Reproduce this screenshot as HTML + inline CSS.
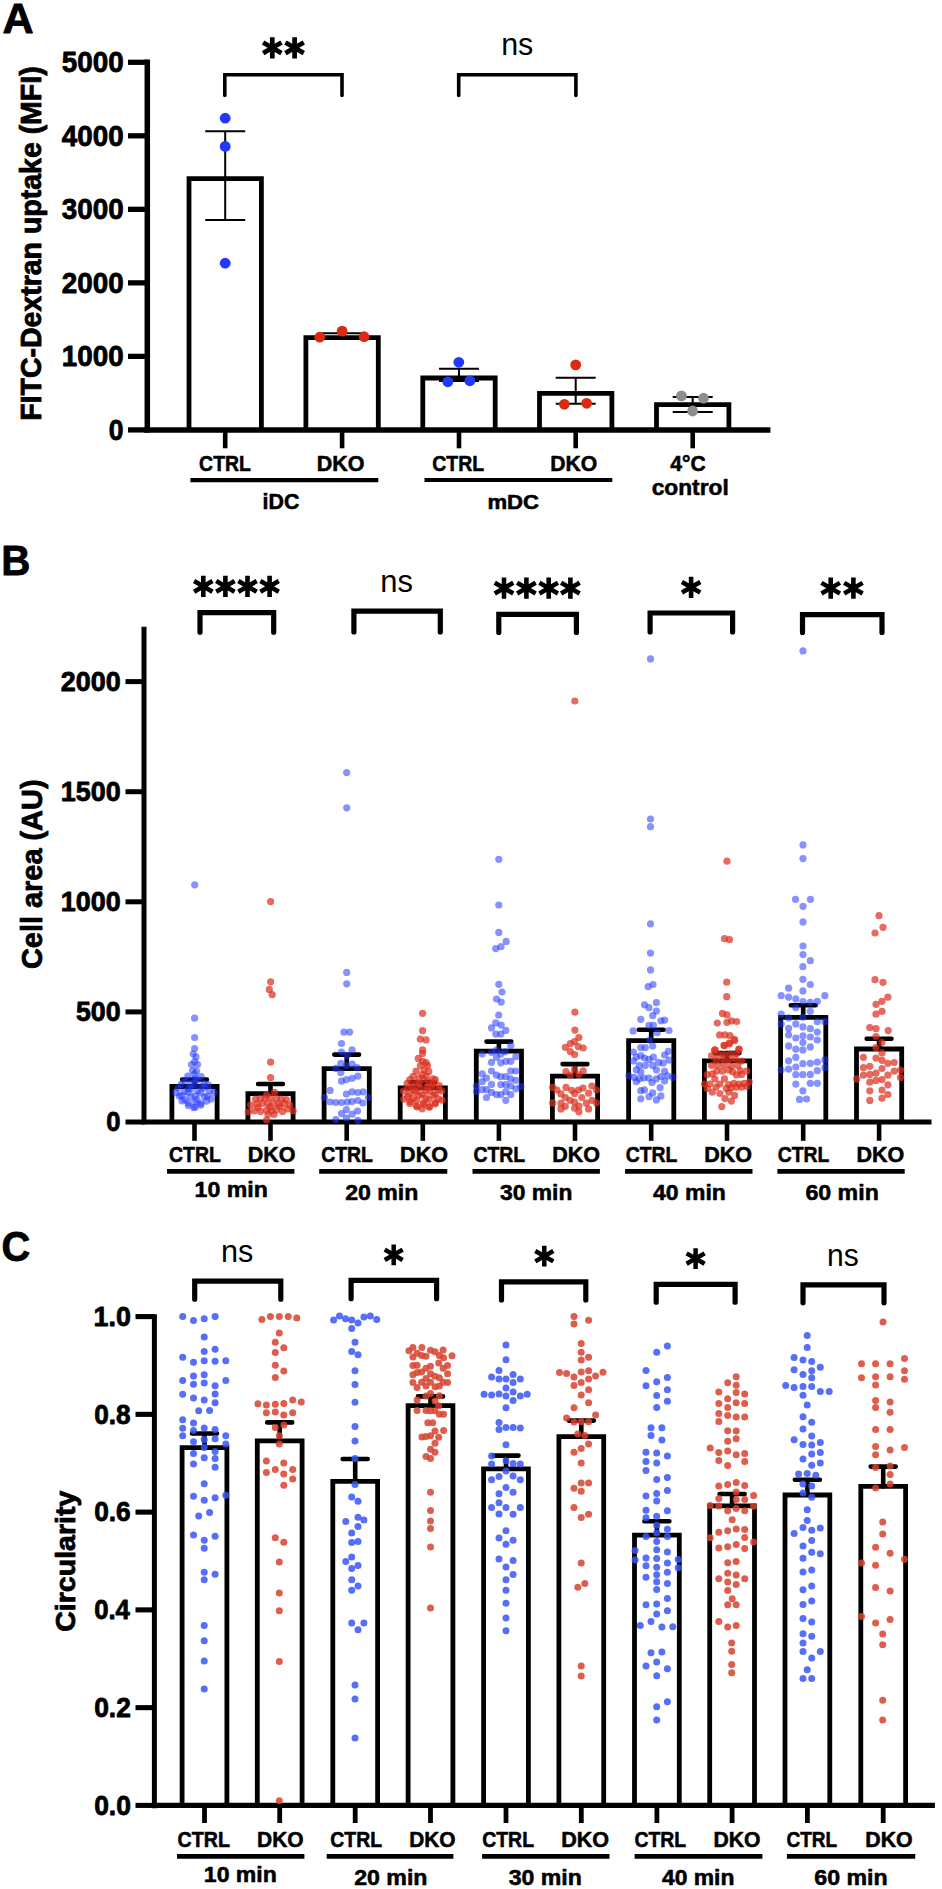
<!DOCTYPE html>
<html><head><meta charset="utf-8"><title>Figure</title>
<style>html,body{margin:0;padding:0;background:#fff;}body{width:942px;height:1889px;overflow:hidden;}svg{display:block;}text{font-family:"Liberation Sans",sans-serif;}</style>
</head><body>
<svg width="942" height="1889" viewBox="0 0 942 1889" font-family="Liberation Sans, sans-serif"><text transform="translate(2.52,32.50) scale(1.0019,1)" font-size="43.05" font-weight="bold" fill="#000" stroke="#000" stroke-width="0.80" stroke-linejoin="round">A</text>
<line x1="147.30" y1="59.60" x2="147.30" y2="432.60" stroke="#000" stroke-width="5.5" stroke-linecap="butt"/>
<line x1="128.00" y1="62.30" x2="147.30" y2="62.30" stroke="#000" stroke-width="5.3" stroke-linecap="butt"/>
<text transform="translate(61.77,72.21) scale(0.9651,1)" font-size="28.83" font-weight="bold" fill="#000" stroke="#000" stroke-width="0.80" stroke-linejoin="round">5000</text>
<line x1="128.00" y1="135.82" x2="147.30" y2="135.82" stroke="#000" stroke-width="5.3" stroke-linecap="butt"/>
<text transform="translate(61.76,145.73) scale(0.9652,1)" font-size="28.83" font-weight="bold" fill="#000" stroke="#000" stroke-width="0.80" stroke-linejoin="round">4000</text>
<line x1="128.00" y1="209.34" x2="147.30" y2="209.34" stroke="#000" stroke-width="5.3" stroke-linecap="butt"/>
<text transform="translate(61.76,219.18) scale(0.9686,1)" font-size="28.73" font-weight="bold" fill="#000" stroke="#000" stroke-width="0.80" stroke-linejoin="round">3000</text>
<line x1="128.00" y1="282.86" x2="147.30" y2="282.86" stroke="#000" stroke-width="5.3" stroke-linecap="butt"/>
<text transform="translate(61.77,292.77) scale(0.9651,1)" font-size="28.83" font-weight="bold" fill="#000" stroke="#000" stroke-width="0.80" stroke-linejoin="round">2000</text>
<line x1="128.00" y1="356.38" x2="147.30" y2="356.38" stroke="#000" stroke-width="5.3" stroke-linecap="butt"/>
<text transform="translate(61.78,366.29) scale(0.9649,1)" font-size="28.83" font-weight="bold" fill="#000" stroke="#000" stroke-width="0.80" stroke-linejoin="round">1000</text>
<line x1="128.00" y1="429.90" x2="147.30" y2="429.90" stroke="#000" stroke-width="5.3" stroke-linecap="butt"/>
<text transform="translate(108.84,439.81) scale(0.9196,1)" font-size="28.83" font-weight="bold" fill="#000" stroke="#000" stroke-width="0.80" stroke-linejoin="round">0</text>
<text transform="translate(41.13,420.82) rotate(-90) scale(0.9734,1)" font-size="29.28" font-weight="bold" stroke="#000" stroke-width="0.80" stroke-linejoin="round">FITC-Dextran uptake (MFI)</text>
<line x1="144.50" y1="429.90" x2="770.40" y2="429.90" stroke="#000" stroke-width="5.5" stroke-linecap="butt"/>
<line x1="225.20" y1="429.90" x2="225.20" y2="448.30" stroke="#000" stroke-width="4.6" stroke-linecap="butt"/>
<line x1="342.10" y1="429.90" x2="342.10" y2="448.30" stroke="#000" stroke-width="4.6" stroke-linecap="butt"/>
<line x1="459.00" y1="429.90" x2="459.00" y2="448.30" stroke="#000" stroke-width="4.6" stroke-linecap="butt"/>
<line x1="575.70" y1="429.90" x2="575.70" y2="448.30" stroke="#000" stroke-width="4.6" stroke-linecap="butt"/>
<line x1="692.70" y1="429.90" x2="692.70" y2="448.30" stroke="#000" stroke-width="4.6" stroke-linecap="butt"/>
<path d="M189.00,429.90V178.70H261.40V429.90" stroke="#000" stroke-width="4.8" fill="none" stroke-linejoin="miter"/>
<path d="M305.90,429.90V337.60H378.30V429.90" stroke="#000" stroke-width="4.8" fill="none" stroke-linejoin="miter"/>
<path d="M422.80,429.90V378.00H495.20V429.90" stroke="#000" stroke-width="4.8" fill="none" stroke-linejoin="miter"/>
<path d="M539.50,429.90V393.40H611.90V429.90" stroke="#000" stroke-width="4.8" fill="none" stroke-linejoin="miter"/>
<path d="M656.50,429.90V404.60H728.90V429.90" stroke="#000" stroke-width="4.8" fill="none" stroke-linejoin="miter"/>
<path d="M225.20,131.30V220.10M205.20,131.30H245.20M205.20,220.10H245.20" stroke="#000" stroke-width="2.0" fill="none" stroke-linecap="butt"/>
<path d="M342.10,333.20V337.80M322.10,333.20H362.10M322.10,337.80H362.10" stroke="#000" stroke-width="2.0" fill="none" stroke-linecap="butt"/>
<path d="M459.00,368.70V381.00M439.00,368.70H479.00M439.00,381.00H479.00" stroke="#000" stroke-width="2.0" fill="none" stroke-linecap="butt"/>
<path d="M575.70,377.80V403.70M555.70,377.80H595.70M555.70,403.70H595.70" stroke="#000" stroke-width="2.0" fill="none" stroke-linecap="butt"/>
<path d="M692.70,396.90V412.00M672.70,396.90H712.70M672.70,412.00H712.70" stroke="#000" stroke-width="2.0" fill="none" stroke-linecap="butt"/>
<g fill="#2238ff" fill-opacity="1.0"><circle cx="225.2" cy="118.2" r="5.4"/><circle cx="225.2" cy="146.4" r="5.4"/><circle cx="225.2" cy="263.2" r="5.4"/><circle cx="458.8" cy="362.3" r="5.4"/><circle cx="447.8" cy="381.8" r="5.4"/><circle cx="469.9" cy="380.8" r="5.4"/></g>
<g fill="#dc2a10" fill-opacity="1.0"><circle cx="319.7" cy="337.2" r="5.4"/><circle cx="342.1" cy="331.1" r="5.4"/><circle cx="364.1" cy="336.7" r="5.4"/><circle cx="575.7" cy="364.9" r="5.4"/><circle cx="564.4" cy="404.3" r="5.4"/><circle cx="586.6" cy="403.3" r="5.4"/></g>
<g fill="#8e8e8e" fill-opacity="1.0"><circle cx="681.5" cy="395.9" r="5.4"/><circle cx="703.5" cy="398.2" r="5.4"/><circle cx="692.6" cy="411.0" r="5.4"/></g>
<path d="M224.80,95.50V74.70H342.00V95.50" stroke="#000" stroke-width="3.6" fill="none" stroke-linecap="round" stroke-linejoin="miter"/>
<path d="M458.70,95.50V74.70H575.90V95.50" stroke="#000" stroke-width="3.6" fill="none" stroke-linecap="round" stroke-linejoin="miter"/>
<path d="M272.30,58.45L272.30,37.25M263.12,53.15L281.48,42.55M263.12,42.55L281.48,53.15" stroke="#000" stroke-width="4.7" fill="none"/>
<path d="M294.60,58.45L294.60,37.25M285.42,53.15L303.78,42.55M285.42,42.55L303.78,53.15" stroke="#000" stroke-width="4.7" fill="none"/>
<text transform="translate(501.14,54.98) scale(0.9525,1)" font-size="31.96" font-weight="normal" fill="#000">ns</text>
<text transform="translate(199.10,470.50) scale(0.8624,1)" font-size="22.54" font-weight="bold" fill="#000" stroke="#000" stroke-width="0.55" stroke-linejoin="round">CTRL</text>
<text transform="translate(316.82,470.50) scale(0.9543,1)" font-size="22.54" font-weight="bold" fill="#000" stroke="#000" stroke-width="0.55" stroke-linejoin="round">DKO</text>
<text transform="translate(432.30,470.50) scale(0.8678,1)" font-size="22.40" font-weight="bold" fill="#000" stroke="#000" stroke-width="0.55" stroke-linejoin="round">CTRL</text>
<text transform="translate(550.25,470.50) scale(0.9435,1)" font-size="22.40" font-weight="bold" fill="#000" stroke="#000" stroke-width="0.55" stroke-linejoin="round">DKO</text>
<text transform="translate(670.36,470.50) scale(0.9405,1)" font-size="22.40" font-weight="bold" fill="#000" stroke="#000" stroke-width="0.55" stroke-linejoin="round">4°C</text>
<text transform="translate(651.67,494.90) scale(0.9922,1)" font-size="22.93" font-weight="bold" fill="#000" stroke="#000" stroke-width="0.55" stroke-linejoin="round">control</text>
<text transform="translate(262.58,509.01) scale(0.9826,1)" font-size="21.70" font-weight="bold" fill="#000" stroke="#000" stroke-width="0.55" stroke-linejoin="round">iDC</text>
<text transform="translate(487.44,509.12) scale(1.0840,1)" font-size="20.42" font-weight="bold" fill="#000" stroke="#000" stroke-width="0.55" stroke-linejoin="round">mDC</text>
<line x1="190.40" y1="480.20" x2="378.30" y2="480.20" stroke="#000" stroke-width="4.2" stroke-linecap="butt"/>
<line x1="424.50" y1="480.00" x2="612.30" y2="480.00" stroke="#000" stroke-width="4.2" stroke-linecap="butt"/>
<text transform="translate(1.28,575.30) scale(0.9495,1)" font-size="42.47" font-weight="bold" fill="#000" stroke="#000" stroke-width="0.80" stroke-linejoin="round">B</text>
<line x1="144.00" y1="626.80" x2="144.00" y2="1124.20" stroke="#000" stroke-width="5.0" stroke-linecap="butt"/>
<line x1="125.50" y1="1122.00" x2="144.00" y2="1122.00" stroke="#000" stroke-width="5.0" stroke-linecap="butt"/>
<text transform="translate(106.31,1131.33) scale(0.9435,1)" font-size="27.14" font-weight="bold" fill="#000" stroke="#000" stroke-width="0.80" stroke-linejoin="round">0</text>
<line x1="125.50" y1="1011.90" x2="144.00" y2="1011.90" stroke="#000" stroke-width="5.0" stroke-linecap="butt"/>
<text transform="translate(75.90,1021.23) scale(0.9871,1)" font-size="27.14" font-weight="bold" fill="#000" stroke="#000" stroke-width="0.80" stroke-linejoin="round">500</text>
<line x1="125.50" y1="901.80" x2="144.00" y2="901.80" stroke="#000" stroke-width="5.0" stroke-linecap="butt"/>
<text transform="translate(60.77,911.13) scale(0.9916,1)" font-size="27.14" font-weight="bold" fill="#000" stroke="#000" stroke-width="0.80" stroke-linejoin="round">1000</text>
<line x1="125.50" y1="791.70" x2="144.00" y2="791.70" stroke="#000" stroke-width="5.0" stroke-linecap="butt"/>
<text transform="translate(60.77,801.03) scale(0.9916,1)" font-size="27.14" font-weight="bold" fill="#000" stroke="#000" stroke-width="0.80" stroke-linejoin="round">1500</text>
<line x1="125.50" y1="681.60" x2="144.00" y2="681.60" stroke="#000" stroke-width="5.0" stroke-linecap="butt"/>
<text transform="translate(60.76,690.93) scale(0.9918,1)" font-size="27.14" font-weight="bold" fill="#000" stroke="#000" stroke-width="0.80" stroke-linejoin="round">2000</text>
<text transform="translate(41.75,969.06) rotate(-90) scale(0.9600,1)" font-size="30.13" font-weight="bold" stroke="#000" stroke-width="0.80" stroke-linejoin="round">Cell area (AU)</text>
<line x1="141.50" y1="1122.00" x2="931.50" y2="1122.00" stroke="#000" stroke-width="4.8" stroke-linecap="butt"/>
<line x1="194.50" y1="1122.00" x2="194.50" y2="1140.80" stroke="#000" stroke-width="4.6" stroke-linecap="butt"/>
<line x1="270.50" y1="1122.00" x2="270.50" y2="1140.80" stroke="#000" stroke-width="4.6" stroke-linecap="butt"/>
<line x1="346.70" y1="1122.00" x2="346.70" y2="1140.80" stroke="#000" stroke-width="4.6" stroke-linecap="butt"/>
<line x1="422.80" y1="1122.00" x2="422.80" y2="1140.80" stroke="#000" stroke-width="4.6" stroke-linecap="butt"/>
<line x1="498.90" y1="1122.00" x2="498.90" y2="1140.80" stroke="#000" stroke-width="4.6" stroke-linecap="butt"/>
<line x1="575.00" y1="1122.00" x2="575.00" y2="1140.80" stroke="#000" stroke-width="4.6" stroke-linecap="butt"/>
<line x1="651.20" y1="1122.00" x2="651.20" y2="1140.80" stroke="#000" stroke-width="4.6" stroke-linecap="butt"/>
<line x1="727.00" y1="1122.00" x2="727.00" y2="1140.80" stroke="#000" stroke-width="4.6" stroke-linecap="butt"/>
<line x1="803.20" y1="1122.00" x2="803.20" y2="1140.80" stroke="#000" stroke-width="4.6" stroke-linecap="butt"/>
<line x1="879.10" y1="1122.00" x2="879.10" y2="1140.80" stroke="#000" stroke-width="4.6" stroke-linecap="butt"/>
<path d="M171.90,1122.00V1086.50H217.10V1122.00" stroke="#000" stroke-width="4.8" fill="none" stroke-linejoin="miter"/>
<path d="M247.90,1122.00V1093.60H293.10V1122.00" stroke="#000" stroke-width="4.8" fill="none" stroke-linejoin="miter"/>
<path d="M324.10,1122.00V1068.60H369.30V1122.00" stroke="#000" stroke-width="4.8" fill="none" stroke-linejoin="miter"/>
<path d="M400.20,1122.00V1087.80H445.40V1122.00" stroke="#000" stroke-width="4.8" fill="none" stroke-linejoin="miter"/>
<path d="M476.30,1122.00V1051.10H521.50V1122.00" stroke="#000" stroke-width="4.8" fill="none" stroke-linejoin="miter"/>
<path d="M552.40,1122.00V1076.20H597.60V1122.00" stroke="#000" stroke-width="4.8" fill="none" stroke-linejoin="miter"/>
<path d="M628.60,1122.00V1040.70H673.80V1122.00" stroke="#000" stroke-width="4.8" fill="none" stroke-linejoin="miter"/>
<path d="M704.40,1122.00V1060.80H749.60V1122.00" stroke="#000" stroke-width="4.8" fill="none" stroke-linejoin="miter"/>
<path d="M780.60,1122.00V1017.40H825.80V1122.00" stroke="#000" stroke-width="4.8" fill="none" stroke-linejoin="miter"/>
<path d="M856.50,1122.00V1049.00H901.70V1122.00" stroke="#000" stroke-width="4.8" fill="none" stroke-linejoin="miter"/>
<path d="M194.50,1086.50V1079.50M182.10,1079.50H206.90" stroke="#000" stroke-width="4.6" fill="none" stroke-linecap="round"/>
<path d="M270.50,1093.60V1084.00M258.10,1084.00H282.90" stroke="#000" stroke-width="4.6" fill="none" stroke-linecap="round"/>
<path d="M346.70,1068.60V1054.60M334.30,1054.60H359.10" stroke="#000" stroke-width="4.6" fill="none" stroke-linecap="round"/>
<path d="M422.80,1087.80V1082.30M410.40,1082.30H435.20" stroke="#000" stroke-width="4.6" fill="none" stroke-linecap="round"/>
<path d="M498.90,1051.10V1041.60M486.50,1041.60H511.30" stroke="#000" stroke-width="4.6" fill="none" stroke-linecap="round"/>
<path d="M575.00,1076.20V1064.10M562.60,1064.10H587.40" stroke="#000" stroke-width="4.6" fill="none" stroke-linecap="round"/>
<path d="M651.20,1040.70V1029.70M638.80,1029.70H663.60" stroke="#000" stroke-width="4.6" fill="none" stroke-linecap="round"/>
<path d="M727.00,1060.80V1053.10M714.60,1053.10H739.40" stroke="#000" stroke-width="4.6" fill="none" stroke-linecap="round"/>
<path d="M803.20,1017.40V1005.30M790.80,1005.30H815.60" stroke="#000" stroke-width="4.6" fill="none" stroke-linecap="round"/>
<path d="M879.10,1049.00V1038.80M866.70,1038.80H891.50" stroke="#000" stroke-width="4.6" fill="none" stroke-linecap="round"/>
<g fill="#2238ff" fill-opacity="0.55"><circle cx="194.7" cy="884.8" r="3.6"/><circle cx="194.6" cy="1018.2" r="3.6"/><circle cx="194.6" cy="1037.5" r="3.6"/><circle cx="194.6" cy="1048.5" r="3.6"/><circle cx="193.2" cy="1053.8" r="3.6"/><circle cx="196.0" cy="1056.8" r="3.6"/><circle cx="194.6" cy="1061.7" r="3.6"/><circle cx="191.5" cy="1064.5" r="3.6"/><circle cx="197.5" cy="1064.5" r="3.6"/><circle cx="192.5" cy="1070.5" r="3.6"/><circle cx="196.5" cy="1071.0" r="3.6"/><circle cx="194.6" cy="1074.0" r="3.6"/><circle cx="187.9" cy="1076.2" r="3.6"/><circle cx="194.8" cy="1078.5" r="3.6"/><circle cx="201.1" cy="1076.6" r="3.6"/><circle cx="184.3" cy="1080.8" r="3.6"/><circle cx="190.7" cy="1083.1" r="3.6"/><circle cx="197.1" cy="1080.1" r="3.6"/><circle cx="204.1" cy="1083.7" r="3.6"/><circle cx="181.2" cy="1084.4" r="3.6"/><circle cx="188.4" cy="1087.9" r="3.6"/><circle cx="194.7" cy="1084.6" r="3.6"/><circle cx="201.8" cy="1086.5" r="3.6"/><circle cx="208.0" cy="1084.5" r="3.6"/><circle cx="178.0" cy="1088.2" r="3.6"/><circle cx="184.7" cy="1091.7" r="3.6"/><circle cx="190.9" cy="1088.9" r="3.6"/><circle cx="198.0" cy="1091.0" r="3.6"/><circle cx="204.3" cy="1088.1" r="3.6"/><circle cx="209.9" cy="1090.7" r="3.6"/><circle cx="175.7" cy="1092.7" r="3.6"/><circle cx="181.5" cy="1095.3" r="3.6"/><circle cx="188.1" cy="1092.5" r="3.6"/><circle cx="195.1" cy="1095.5" r="3.6"/><circle cx="200.6" cy="1092.9" r="3.6"/><circle cx="207.4" cy="1095.8" r="3.6"/><circle cx="214.2" cy="1092.5" r="3.6"/><circle cx="179.4" cy="1096.2" r="3.6"/><circle cx="184.9" cy="1099.6" r="3.6"/><circle cx="190.8" cy="1096.8" r="3.6"/><circle cx="197.1" cy="1099.5" r="3.6"/><circle cx="204.6" cy="1096.9" r="3.6"/><circle cx="211.2" cy="1098.9" r="3.6"/><circle cx="182.1" cy="1101.0" r="3.6"/><circle cx="188.3" cy="1103.1" r="3.6"/><circle cx="195.1" cy="1101.5" r="3.6"/><circle cx="201.0" cy="1103.5" r="3.6"/><circle cx="206.7" cy="1101.1" r="3.6"/><circle cx="188.4" cy="1105.6" r="3.6"/><circle cx="195.1" cy="1106.9" r="3.6"/><circle cx="200.8" cy="1105.1" r="3.6"/><circle cx="193.8" cy="1107.7" r="3.6"/></g>
<g fill="#dc3020" fill-opacity="0.72"><circle cx="270.6" cy="901.6" r="3.6"/><circle cx="270.6" cy="981.8" r="3.6"/><circle cx="269.3" cy="989.4" r="3.6"/><circle cx="272.2" cy="994.7" r="3.6"/><circle cx="270.6" cy="1062.2" r="3.6"/><circle cx="270.6" cy="1077.7" r="3.6"/><circle cx="274.6" cy="1092.3" r="3.6"/><circle cx="266.6" cy="1094.8" r="3.6"/><circle cx="255.5" cy="1099.0" r="3.6"/><circle cx="260.5" cy="1098.5" r="3.6"/><circle cx="265.4" cy="1098.0" r="3.6"/><circle cx="270.3" cy="1097.5" r="3.6"/><circle cx="276.5" cy="1098.5" r="3.6"/><circle cx="281.4" cy="1099.0" r="3.6"/><circle cx="286.3" cy="1099.7" r="3.6"/><circle cx="250.6" cy="1104.8" r="3.6"/><circle cx="256.8" cy="1104.0" r="3.6"/><circle cx="262.3" cy="1103.5" r="3.6"/><circle cx="267.9" cy="1103.4" r="3.6"/><circle cx="273.4" cy="1103.4" r="3.6"/><circle cx="278.9" cy="1104.0" r="3.6"/><circle cx="284.5" cy="1103.4" r="3.6"/><circle cx="290.0" cy="1105.2" r="3.6"/><circle cx="248.2" cy="1112.0" r="3.6"/><circle cx="254.3" cy="1110.8" r="3.6"/><circle cx="260.5" cy="1111.4" r="3.6"/><circle cx="266.6" cy="1110.2" r="3.6"/><circle cx="271.6" cy="1110.8" r="3.6"/><circle cx="276.5" cy="1109.6" r="3.6"/><circle cx="282.6" cy="1111.4" r="3.6"/><circle cx="287.6" cy="1109.0" r="3.6"/><circle cx="293.1" cy="1110.8" r="3.6"/><circle cx="267.9" cy="1114.5" r="3.6"/><circle cx="274.0" cy="1114.5" r="3.6"/><circle cx="266.6" cy="1120.0" r="3.6"/><circle cx="258.0" cy="1107.5" r="3.6"/><circle cx="270.0" cy="1107.0" r="3.6"/><circle cx="280.0" cy="1106.5" r="3.6"/></g>
<g fill="#2238ff" fill-opacity="0.55"><circle cx="346.7" cy="772.6" r="3.6"/><circle cx="346.7" cy="807.8" r="3.6"/><circle cx="346.7" cy="972.4" r="3.6"/><circle cx="346.7" cy="983.8" r="3.6"/><circle cx="343.9" cy="1032.1" r="3.6"/><circle cx="349.6" cy="1032.1" r="3.6"/><circle cx="341.5" cy="1043.5" r="3.6"/><circle cx="352.1" cy="1049.9" r="3.6"/><circle cx="341.5" cy="1052.0" r="3.6"/><circle cx="347.2" cy="1055.6" r="3.6"/><circle cx="340.8" cy="1063.4" r="3.6"/><circle cx="352.1" cy="1064.1" r="3.6"/><circle cx="346.4" cy="1065.5" r="3.6"/><circle cx="335.8" cy="1068.4" r="3.6"/><circle cx="357.1" cy="1067.7" r="3.6"/><circle cx="340.8" cy="1072.6" r="3.6"/><circle cx="341.5" cy="1081.2" r="3.6"/><circle cx="346.4" cy="1079.7" r="3.6"/><circle cx="352.1" cy="1078.3" r="3.6"/><circle cx="357.8" cy="1076.2" r="3.6"/><circle cx="330.1" cy="1090.4" r="3.6"/><circle cx="346.4" cy="1094.0" r="3.6"/><circle cx="352.1" cy="1091.8" r="3.6"/><circle cx="357.8" cy="1092.5" r="3.6"/><circle cx="363.2" cy="1091.8" r="3.6"/><circle cx="324.4" cy="1097.5" r="3.6"/><circle cx="368.5" cy="1097.5" r="3.6"/><circle cx="330.1" cy="1102.0" r="3.6"/><circle cx="335.8" cy="1102.5" r="3.6"/><circle cx="341.5" cy="1102.5" r="3.6"/><circle cx="347.2" cy="1102.0" r="3.6"/><circle cx="352.1" cy="1101.5" r="3.6"/><circle cx="357.8" cy="1100.5" r="3.6"/><circle cx="362.8" cy="1103.0" r="3.6"/><circle cx="346.4" cy="1109.6" r="3.6"/><circle cx="341.5" cy="1113.6" r="3.6"/><circle cx="352.1" cy="1114.2" r="3.6"/><circle cx="357.5" cy="1111.0" r="3.6"/><circle cx="346.4" cy="1118.0" r="3.6"/><circle cx="335.8" cy="1119.6" r="3.6"/><circle cx="357.8" cy="1120.3" r="3.6"/></g>
<g fill="#dc3020" fill-opacity="0.72"><circle cx="422.6" cy="1013.3" r="3.6"/><circle cx="422.6" cy="1030.7" r="3.6"/><circle cx="420.4" cy="1039.2" r="3.6"/><circle cx="426.1" cy="1039.9" r="3.6"/><circle cx="422.6" cy="1049.9" r="3.6"/><circle cx="422.6" cy="1053.4" r="3.6"/><circle cx="418.3" cy="1058.4" r="3.6"/><circle cx="422.6" cy="1061.3" r="3.6"/><circle cx="426.1" cy="1062.7" r="3.6"/><circle cx="420.4" cy="1065.5" r="3.6"/><circle cx="427.5" cy="1065.5" r="3.6"/><circle cx="424.0" cy="1069.8" r="3.6"/><circle cx="416.1" cy="1071.2" r="3.6"/><circle cx="422.3" cy="1074.6" r="3.6"/><circle cx="428.8" cy="1071.4" r="3.6"/><circle cx="413.2" cy="1076.4" r="3.6"/><circle cx="419.1" cy="1078.1" r="3.6"/><circle cx="426.3" cy="1076.4" r="3.6"/><circle cx="433.1" cy="1078.8" r="3.6"/><circle cx="409.8" cy="1079.7" r="3.6"/><circle cx="416.4" cy="1082.8" r="3.6"/><circle cx="423.7" cy="1079.2" r="3.6"/><circle cx="428.9" cy="1081.8" r="3.6"/><circle cx="435.4" cy="1079.8" r="3.6"/><circle cx="407.1" cy="1083.4" r="3.6"/><circle cx="412.6" cy="1086.1" r="3.6"/><circle cx="419.6" cy="1083.9" r="3.6"/><circle cx="426.9" cy="1086.5" r="3.6"/><circle cx="432.6" cy="1084.0" r="3.6"/><circle cx="439.3" cy="1085.5" r="3.6"/><circle cx="407.6" cy="1088.2" r="3.6"/><circle cx="414.0" cy="1090.7" r="3.6"/><circle cx="419.6" cy="1087.6" r="3.6"/><circle cx="425.6" cy="1090.4" r="3.6"/><circle cx="431.9" cy="1087.1" r="3.6"/><circle cx="438.5" cy="1089.7" r="3.6"/><circle cx="403.5" cy="1091.1" r="3.6"/><circle cx="409.4" cy="1093.6" r="3.6"/><circle cx="416.0" cy="1091.6" r="3.6"/><circle cx="422.2" cy="1094.8" r="3.6"/><circle cx="429.6" cy="1091.2" r="3.6"/><circle cx="435.4" cy="1094.0" r="3.6"/><circle cx="442.0" cy="1091.2" r="3.6"/><circle cx="407.6" cy="1096.6" r="3.6"/><circle cx="413.3" cy="1098.2" r="3.6"/><circle cx="419.1" cy="1095.2" r="3.6"/><circle cx="425.9" cy="1097.8" r="3.6"/><circle cx="433.1" cy="1095.3" r="3.6"/><circle cx="438.2" cy="1098.9" r="3.6"/><circle cx="403.8" cy="1099.2" r="3.6"/><circle cx="410.3" cy="1101.4" r="3.6"/><circle cx="416.6" cy="1100.6" r="3.6"/><circle cx="423.6" cy="1102.5" r="3.6"/><circle cx="429.0" cy="1099.6" r="3.6"/><circle cx="435.3" cy="1102.6" r="3.6"/><circle cx="442.3" cy="1100.2" r="3.6"/><circle cx="409.9" cy="1103.4" r="3.6"/><circle cx="417.1" cy="1107.0" r="3.6"/><circle cx="423.6" cy="1104.3" r="3.6"/><circle cx="429.9" cy="1106.6" r="3.6"/><circle cx="435.4" cy="1103.8" r="3.6"/><circle cx="416.4" cy="1106.0" r="3.6"/><circle cx="422.2" cy="1108.8" r="3.6"/><circle cx="429.0" cy="1107.1" r="3.6"/></g>
<g fill="#2238ff" fill-opacity="0.55"><circle cx="498.8" cy="859.3" r="3.6"/><circle cx="498.8" cy="905.0" r="3.6"/><circle cx="498.8" cy="932.4" r="3.6"/><circle cx="506.2" cy="941.4" r="3.6"/><circle cx="495.7" cy="948.6" r="3.6"/><circle cx="501.0" cy="946.7" r="3.6"/><circle cx="498.8" cy="984.3" r="3.6"/><circle cx="502.0" cy="992.0" r="3.6"/><circle cx="496.5" cy="999.0" r="3.6"/><circle cx="501.2" cy="1002.1" r="3.6"/><circle cx="498.7" cy="1015.0" r="3.6"/><circle cx="495.8" cy="1022.9" r="3.6"/><circle cx="501.2" cy="1025.1" r="3.6"/><circle cx="491.5" cy="1027.9" r="3.6"/><circle cx="505.8" cy="1030.4" r="3.6"/><circle cx="495.8" cy="1034.1" r="3.6"/><circle cx="500.8" cy="1034.1" r="3.6"/><circle cx="510.8" cy="1045.6" r="3.6"/><circle cx="482.2" cy="1054.0" r="3.6"/><circle cx="491.5" cy="1052.3" r="3.6"/><circle cx="496.5" cy="1050.2" r="3.6"/><circle cx="500.8" cy="1054.2" r="3.6"/><circle cx="505.1" cy="1051.6" r="3.6"/><circle cx="515.9" cy="1056.6" r="3.6"/><circle cx="496.5" cy="1057.3" r="3.6"/><circle cx="491.5" cy="1062.3" r="3.6"/><circle cx="500.8" cy="1062.8" r="3.6"/><circle cx="505.8" cy="1061.3" r="3.6"/><circle cx="510.8" cy="1061.3" r="3.6"/><circle cx="491.5" cy="1071.0" r="3.6"/><circle cx="482.2" cy="1073.8" r="3.6"/><circle cx="510.8" cy="1071.0" r="3.6"/><circle cx="515.9" cy="1071.0" r="3.6"/><circle cx="486.5" cy="1078.0" r="3.6"/><circle cx="496.5" cy="1075.2" r="3.6"/><circle cx="500.8" cy="1076.7" r="3.6"/><circle cx="505.8" cy="1076.7" r="3.6"/><circle cx="510.8" cy="1078.8" r="3.6"/><circle cx="515.9" cy="1080.3" r="3.6"/><circle cx="482.2" cy="1081.7" r="3.6"/><circle cx="491.5" cy="1084.3" r="3.6"/><circle cx="500.8" cy="1084.6" r="3.6"/><circle cx="505.8" cy="1084.6" r="3.6"/><circle cx="510.8" cy="1086.0" r="3.6"/><circle cx="476.4" cy="1086.0" r="3.6"/><circle cx="520.9" cy="1086.7" r="3.6"/><circle cx="482.2" cy="1089.6" r="3.6"/><circle cx="486.5" cy="1089.6" r="3.6"/><circle cx="491.5" cy="1092.4" r="3.6"/><circle cx="496.5" cy="1094.6" r="3.6"/><circle cx="500.8" cy="1094.6" r="3.6"/><circle cx="505.8" cy="1091.7" r="3.6"/><circle cx="510.8" cy="1094.6" r="3.6"/><circle cx="515.9" cy="1088.8" r="3.6"/><circle cx="476.4" cy="1091.7" r="3.6"/><circle cx="486.5" cy="1097.5" r="3.6"/><circle cx="505.8" cy="1100.3" r="3.6"/></g>
<g fill="#dc3020" fill-opacity="0.72"><circle cx="574.8" cy="701.0" r="3.6"/><circle cx="574.9" cy="1012.2" r="3.6"/><circle cx="574.9" cy="1030.1" r="3.6"/><circle cx="578.9" cy="1037.5" r="3.6"/><circle cx="574.6" cy="1041.6" r="3.6"/><circle cx="570.3" cy="1043.7" r="3.6"/><circle cx="565.3" cy="1047.3" r="3.6"/><circle cx="578.2" cy="1046.6" r="3.6"/><circle cx="583.2" cy="1048.0" r="3.6"/><circle cx="570.3" cy="1051.6" r="3.6"/><circle cx="574.6" cy="1054.5" r="3.6"/><circle cx="566.0" cy="1071.7" r="3.6"/><circle cx="574.6" cy="1069.5" r="3.6"/><circle cx="583.2" cy="1070.9" r="3.6"/><circle cx="570.3" cy="1075.2" r="3.6"/><circle cx="578.9" cy="1074.5" r="3.6"/><circle cx="552.7" cy="1087.4" r="3.6"/><circle cx="566.0" cy="1087.4" r="3.6"/><circle cx="583.0" cy="1088.0" r="3.6"/><circle cx="591.9" cy="1086.0" r="3.6"/><circle cx="556.9" cy="1090.0" r="3.6"/><circle cx="571.7" cy="1090.3" r="3.6"/><circle cx="578.5" cy="1090.0" r="3.6"/><circle cx="596.5" cy="1090.0" r="3.6"/><circle cx="561.0" cy="1093.9" r="3.6"/><circle cx="574.6" cy="1093.4" r="3.6"/><circle cx="588.6" cy="1093.2" r="3.6"/><circle cx="565.3" cy="1097.5" r="3.6"/><circle cx="581.8" cy="1097.5" r="3.6"/><circle cx="570.0" cy="1100.3" r="3.6"/><circle cx="592.0" cy="1100.3" r="3.6"/><circle cx="552.7" cy="1102.9" r="3.6"/><circle cx="561.0" cy="1103.2" r="3.6"/><circle cx="574.6" cy="1102.0" r="3.6"/><circle cx="586.4" cy="1103.2" r="3.6"/><circle cx="596.5" cy="1102.9" r="3.6"/><circle cx="565.3" cy="1106.3" r="3.6"/><circle cx="579.0" cy="1106.0" r="3.6"/><circle cx="561.0" cy="1108.9" r="3.6"/><circle cx="574.6" cy="1108.2" r="3.6"/><circle cx="588.6" cy="1108.9" r="3.6"/><circle cx="578.9" cy="1111.8" r="3.6"/></g>
<g fill="#2238ff" fill-opacity="0.55"><circle cx="650.5" cy="658.9" r="3.6"/><circle cx="650.5" cy="819.0" r="3.6"/><circle cx="650.5" cy="826.7" r="3.6"/><circle cx="650.5" cy="923.8" r="3.6"/><circle cx="650.5" cy="953.1" r="3.6"/><circle cx="650.5" cy="969.9" r="3.6"/><circle cx="648.2" cy="986.7" r="3.6"/><circle cx="653.0" cy="984.5" r="3.6"/><circle cx="656.4" cy="1002.7" r="3.6"/><circle cx="644.5" cy="1004.8" r="3.6"/><circle cx="649.0" cy="1007.7" r="3.6"/><circle cx="656.4" cy="1011.1" r="3.6"/><circle cx="652.7" cy="1015.6" r="3.6"/><circle cx="640.8" cy="1019.3" r="3.6"/><circle cx="660.9" cy="1020.8" r="3.6"/><circle cx="664.6" cy="1020.1" r="3.6"/><circle cx="649.0" cy="1025.3" r="3.6"/><circle cx="653.4" cy="1025.3" r="3.6"/><circle cx="633.1" cy="1030.9" r="3.6"/><circle cx="669.0" cy="1030.5" r="3.6"/><circle cx="657.2" cy="1032.7" r="3.6"/><circle cx="649.7" cy="1040.1" r="3.6"/><circle cx="640.8" cy="1047.6" r="3.6"/><circle cx="645.3" cy="1047.6" r="3.6"/><circle cx="652.7" cy="1046.1" r="3.6"/><circle cx="633.4" cy="1052.0" r="3.6"/><circle cx="668.3" cy="1051.3" r="3.6"/><circle cx="640.8" cy="1055.7" r="3.6"/><circle cx="664.6" cy="1055.0" r="3.6"/><circle cx="636.3" cy="1057.2" r="3.6"/><circle cx="644.5" cy="1058.0" r="3.6"/><circle cx="649.0" cy="1059.4" r="3.6"/><circle cx="653.4" cy="1057.2" r="3.6"/><circle cx="658.6" cy="1062.4" r="3.6"/><circle cx="663.1" cy="1063.2" r="3.6"/><circle cx="669.0" cy="1060.2" r="3.6"/><circle cx="633.4" cy="1061.0" r="3.6"/><circle cx="639.3" cy="1065.4" r="3.6"/><circle cx="645.3" cy="1065.4" r="3.6"/><circle cx="652.7" cy="1065.4" r="3.6"/><circle cx="636.3" cy="1069.8" r="3.6"/><circle cx="640.8" cy="1072.1" r="3.6"/><circle cx="656.4" cy="1069.8" r="3.6"/><circle cx="664.6" cy="1071.3" r="3.6"/><circle cx="628.9" cy="1075.8" r="3.6"/><circle cx="634.1" cy="1077.3" r="3.6"/><circle cx="639.3" cy="1078.8" r="3.6"/><circle cx="643.8" cy="1078.0" r="3.6"/><circle cx="649.0" cy="1078.0" r="3.6"/><circle cx="656.4" cy="1078.8" r="3.6"/><circle cx="660.9" cy="1076.5" r="3.6"/><circle cx="667.6" cy="1075.8" r="3.6"/><circle cx="672.8" cy="1077.3" r="3.6"/><circle cx="636.3" cy="1081.7" r="3.6"/><circle cx="652.0" cy="1082.5" r="3.6"/><circle cx="664.6" cy="1081.0" r="3.6"/><circle cx="660.1" cy="1087.7" r="3.6"/><circle cx="640.8" cy="1090.7" r="3.6"/><circle cx="644.5" cy="1089.9" r="3.6"/><circle cx="652.7" cy="1092.9" r="3.6"/><circle cx="649.0" cy="1096.6" r="3.6"/><circle cx="660.9" cy="1095.9" r="3.6"/><circle cx="640.8" cy="1098.8" r="3.6"/><circle cx="656.4" cy="1099.9" r="3.6"/></g>
<g fill="#dc3020" fill-opacity="0.72"><circle cx="727.0" cy="861.2" r="3.6"/><circle cx="724.5" cy="938.7" r="3.6"/><circle cx="729.5" cy="939.7" r="3.6"/><circle cx="726.7" cy="982.2" r="3.6"/><circle cx="726.7" cy="996.7" r="3.6"/><circle cx="722.5" cy="1013.4" r="3.6"/><circle cx="727.0" cy="1014.9" r="3.6"/><circle cx="717.3" cy="1023.0" r="3.6"/><circle cx="727.0" cy="1022.3" r="3.6"/><circle cx="731.5" cy="1020.8" r="3.6"/><circle cx="736.7" cy="1021.5" r="3.6"/><circle cx="719.6" cy="1034.9" r="3.6"/><circle cx="724.8" cy="1034.9" r="3.6"/><circle cx="730.0" cy="1035.7" r="3.6"/><circle cx="734.4" cy="1039.4" r="3.6"/><circle cx="729.2" cy="1043.1" r="3.6"/><circle cx="724.0" cy="1045.3" r="3.6"/><circle cx="715.1" cy="1049.8" r="3.6"/><circle cx="738.9" cy="1049.0" r="3.6"/><circle cx="724.4" cy="1045.7" r="3.6"/><circle cx="729.5" cy="1043.8" r="3.6"/><circle cx="734.6" cy="1040.6" r="3.6"/><circle cx="714.5" cy="1050.2" r="3.6"/><circle cx="739.0" cy="1049.6" r="3.6"/><circle cx="711.6" cy="1055.9" r="3.6"/><circle cx="718.0" cy="1054.0" r="3.6"/><circle cx="723.8" cy="1054.6" r="3.6"/><circle cx="730.1" cy="1054.0" r="3.6"/><circle cx="736.5" cy="1053.4" r="3.6"/><circle cx="716.1" cy="1060.4" r="3.6"/><circle cx="722.5" cy="1059.1" r="3.6"/><circle cx="728.8" cy="1059.7" r="3.6"/><circle cx="735.2" cy="1059.1" r="3.6"/><circle cx="741.6" cy="1061.0" r="3.6"/><circle cx="711.6" cy="1065.5" r="3.6"/><circle cx="718.0" cy="1065.5" r="3.6"/><circle cx="724.4" cy="1064.8" r="3.6"/><circle cx="731.4" cy="1066.1" r="3.6"/><circle cx="737.8" cy="1065.5" r="3.6"/><circle cx="716.7" cy="1071.2" r="3.6"/><circle cx="722.5" cy="1071.2" r="3.6"/><circle cx="728.8" cy="1069.9" r="3.6"/><circle cx="732.7" cy="1071.8" r="3.6"/><circle cx="740.3" cy="1070.6" r="3.6"/><circle cx="746.7" cy="1071.2" r="3.6"/><circle cx="707.2" cy="1074.7" r="3.6"/><circle cx="712.3" cy="1073.8" r="3.6"/><circle cx="736.5" cy="1075.0" r="3.6"/><circle cx="741.6" cy="1074.4" r="3.6"/><circle cx="714.8" cy="1078.9" r="3.6"/><circle cx="724.4" cy="1078.9" r="3.6"/><circle cx="704.6" cy="1084.0" r="3.6"/><circle cx="709.7" cy="1084.0" r="3.6"/><circle cx="719.9" cy="1084.0" r="3.6"/><circle cx="728.8" cy="1084.6" r="3.6"/><circle cx="733.9" cy="1083.3" r="3.6"/><circle cx="739.0" cy="1084.0" r="3.6"/><circle cx="744.1" cy="1083.3" r="3.6"/><circle cx="749.2" cy="1082.0" r="3.6"/><circle cx="707.2" cy="1088.4" r="3.6"/><circle cx="716.1" cy="1087.1" r="3.6"/><circle cx="726.3" cy="1088.4" r="3.6"/><circle cx="731.4" cy="1087.8" r="3.6"/><circle cx="736.5" cy="1087.1" r="3.6"/><circle cx="741.6" cy="1087.1" r="3.6"/><circle cx="746.7" cy="1086.5" r="3.6"/><circle cx="712.3" cy="1092.2" r="3.6"/><circle cx="719.9" cy="1093.5" r="3.6"/><circle cx="728.8" cy="1092.2" r="3.6"/><circle cx="734.6" cy="1095.4" r="3.6"/><circle cx="725.0" cy="1098.6" r="3.6"/><circle cx="731.4" cy="1101.1" r="3.6"/><circle cx="721.8" cy="1106.6" r="3.6"/></g>
<g fill="#2238ff" fill-opacity="0.55"><circle cx="803.0" cy="650.9" r="3.6"/><circle cx="803.0" cy="844.9" r="3.6"/><circle cx="803.0" cy="858.6" r="3.6"/><circle cx="795.5" cy="899.3" r="3.6"/><circle cx="810.5" cy="899.3" r="3.6"/><circle cx="803.0" cy="906.3" r="3.6"/><circle cx="803.0" cy="921.9" r="3.6"/><circle cx="803.0" cy="946.0" r="3.6"/><circle cx="803.0" cy="954.6" r="3.6"/><circle cx="810.3" cy="960.7" r="3.6"/><circle cx="802.9" cy="966.7" r="3.6"/><circle cx="802.9" cy="979.3" r="3.6"/><circle cx="810.3" cy="984.5" r="3.6"/><circle cx="788.6" cy="988.2" r="3.6"/><circle cx="802.9" cy="990.9" r="3.6"/><circle cx="781.2" cy="995.7" r="3.6"/><circle cx="788.6" cy="997.2" r="3.6"/><circle cx="795.8" cy="998.9" r="3.6"/><circle cx="824.8" cy="995.7" r="3.6"/><circle cx="802.9" cy="1001.6" r="3.6"/><circle cx="810.3" cy="1002.4" r="3.6"/><circle cx="817.3" cy="1001.3" r="3.6"/><circle cx="795.8" cy="1007.6" r="3.6"/><circle cx="810.3" cy="1011.3" r="3.6"/><circle cx="781.2" cy="1014.2" r="3.6"/><circle cx="788.6" cy="1017.9" r="3.6"/><circle cx="802.9" cy="1017.2" r="3.6"/><circle cx="781.2" cy="1023.9" r="3.6"/><circle cx="795.8" cy="1023.9" r="3.6"/><circle cx="817.3" cy="1021.7" r="3.6"/><circle cx="824.8" cy="1021.7" r="3.6"/><circle cx="788.6" cy="1028.4" r="3.6"/><circle cx="802.9" cy="1026.9" r="3.6"/><circle cx="810.3" cy="1028.7" r="3.6"/><circle cx="817.3" cy="1032.1" r="3.6"/><circle cx="788.6" cy="1035.0" r="3.6"/><circle cx="795.8" cy="1038.0" r="3.6"/><circle cx="802.9" cy="1035.8" r="3.6"/><circle cx="810.3" cy="1037.0" r="3.6"/><circle cx="817.3" cy="1040.0" r="3.6"/><circle cx="802.9" cy="1042.5" r="3.6"/><circle cx="788.6" cy="1045.9" r="3.6"/><circle cx="795.8" cy="1049.2" r="3.6"/><circle cx="802.9" cy="1049.9" r="3.6"/><circle cx="810.3" cy="1046.9" r="3.6"/><circle cx="795.8" cy="1057.3" r="3.6"/><circle cx="788.6" cy="1060.8" r="3.6"/><circle cx="802.9" cy="1063.7" r="3.6"/><circle cx="810.3" cy="1063.3" r="3.6"/><circle cx="817.3" cy="1062.2" r="3.6"/><circle cx="824.8" cy="1059.9" r="3.6"/><circle cx="781.2" cy="1070.0" r="3.6"/><circle cx="788.6" cy="1069.2" r="3.6"/><circle cx="795.8" cy="1067.0" r="3.6"/><circle cx="817.3" cy="1070.7" r="3.6"/><circle cx="824.8" cy="1067.7" r="3.6"/><circle cx="795.8" cy="1074.7" r="3.6"/><circle cx="802.9" cy="1074.7" r="3.6"/><circle cx="810.3" cy="1074.4" r="3.6"/><circle cx="795.8" cy="1084.1" r="3.6"/><circle cx="810.3" cy="1083.3" r="3.6"/><circle cx="817.3" cy="1083.3" r="3.6"/><circle cx="802.9" cy="1090.8" r="3.6"/><circle cx="799.5" cy="1099.4" r="3.6"/><circle cx="806.5" cy="1099.0" r="3.6"/></g>
<g fill="#dc3020" fill-opacity="0.72"><circle cx="879.0" cy="915.7" r="3.6"/><circle cx="883.0" cy="927.3" r="3.6"/><circle cx="875.0" cy="933.0" r="3.6"/><circle cx="875.0" cy="979.7" r="3.6"/><circle cx="883.0" cy="982.3" r="3.6"/><circle cx="887.9" cy="997.2" r="3.6"/><circle cx="882.0" cy="1001.3" r="3.6"/><circle cx="876.0" cy="1004.3" r="3.6"/><circle cx="882.0" cy="1011.3" r="3.6"/><circle cx="876.0" cy="1014.2" r="3.6"/><circle cx="869.8" cy="1027.6" r="3.6"/><circle cx="876.0" cy="1028.7" r="3.6"/><circle cx="888.2" cy="1030.6" r="3.6"/><circle cx="876.0" cy="1036.5" r="3.6"/><circle cx="882.0" cy="1042.5" r="3.6"/><circle cx="876.0" cy="1047.7" r="3.6"/><circle cx="882.0" cy="1052.9" r="3.6"/><circle cx="863.4" cy="1057.3" r="3.6"/><circle cx="876.0" cy="1058.1" r="3.6"/><circle cx="882.0" cy="1060.3" r="3.6"/><circle cx="869.8" cy="1066.3" r="3.6"/><circle cx="863.4" cy="1067.7" r="3.6"/><circle cx="882.0" cy="1068.5" r="3.6"/><circle cx="887.9" cy="1063.3" r="3.6"/><circle cx="894.2" cy="1062.5" r="3.6"/><circle cx="900.5" cy="1070.0" r="3.6"/><circle cx="894.2" cy="1071.2" r="3.6"/><circle cx="856.7" cy="1078.9" r="3.6"/><circle cx="863.4" cy="1075.2" r="3.6"/><circle cx="869.8" cy="1074.4" r="3.6"/><circle cx="876.0" cy="1073.2" r="3.6"/><circle cx="887.9" cy="1075.2" r="3.6"/><circle cx="900.5" cy="1077.4" r="3.6"/><circle cx="869.8" cy="1082.2" r="3.6"/><circle cx="876.0" cy="1080.4" r="3.6"/><circle cx="882.0" cy="1079.6" r="3.6"/><circle cx="887.9" cy="1084.8" r="3.6"/><circle cx="869.8" cy="1090.8" r="3.6"/><circle cx="882.0" cy="1090.0" r="3.6"/><circle cx="887.9" cy="1094.5" r="3.6"/><circle cx="869.8" cy="1100.4" r="3.6"/><circle cx="882.0" cy="1098.2" r="3.6"/></g>
<path d="M200.00,632.20V612.60H273.70V632.20" stroke="#000" stroke-width="5.2" fill="none" stroke-linecap="round" stroke-linejoin="miter"/>
<path d="M353.90,631.90V611.20H440.30V631.90" stroke="#000" stroke-width="5.2" fill="none" stroke-linecap="round" stroke-linejoin="miter"/>
<path d="M498.80,632.40V614.30H576.40V632.40" stroke="#000" stroke-width="5.2" fill="none" stroke-linecap="round" stroke-linejoin="miter"/>
<path d="M650.10,631.90V613.00H732.60V631.90" stroke="#000" stroke-width="5.2" fill="none" stroke-linecap="round" stroke-linejoin="miter"/>
<path d="M802.50,632.50V614.60H882.00V632.50" stroke="#000" stroke-width="5.2" fill="none" stroke-linecap="round" stroke-linejoin="miter"/>
<path d="M203.30,597.00L203.30,575.80M194.12,591.70L212.48,581.10M194.12,581.10L212.48,591.70" stroke="#000" stroke-width="4.6" fill="none"/>
<path d="M225.40,597.00L225.40,575.80M216.22,591.70L234.58,581.10M216.22,581.10L234.58,591.70" stroke="#000" stroke-width="4.6" fill="none"/>
<path d="M247.50,597.00L247.50,575.80M238.32,591.70L256.68,581.10M238.32,581.10L256.68,591.70" stroke="#000" stroke-width="4.6" fill="none"/>
<path d="M269.60,597.00L269.60,575.80M260.42,591.70L278.78,581.10M260.42,581.10L278.78,591.70" stroke="#000" stroke-width="4.6" fill="none"/>
<path d="M504.00,598.80L504.00,577.40M494.73,593.45L513.27,582.75M494.73,582.75L513.27,593.45" stroke="#000" stroke-width="4.6" fill="none"/>
<path d="M526.40,598.80L526.40,577.40M517.13,593.45L535.67,582.75M517.13,582.75L535.67,593.45" stroke="#000" stroke-width="4.6" fill="none"/>
<path d="M548.70,598.80L548.70,577.40M539.43,593.45L557.97,582.75M539.43,582.75L557.97,593.45" stroke="#000" stroke-width="4.6" fill="none"/>
<path d="M570.40,598.80L570.40,577.40M561.13,593.45L579.67,582.75M561.13,582.75L579.67,593.45" stroke="#000" stroke-width="4.6" fill="none"/>
<path d="M691.10,597.90L691.10,576.70M681.92,592.60L700.28,582.00M681.92,582.00L700.28,592.60" stroke="#000" stroke-width="4.6" fill="none"/>
<path d="M830.70,598.85L830.70,577.55M821.48,593.53L839.92,582.88M821.48,582.88L839.92,593.53" stroke="#000" stroke-width="4.6" fill="none"/>
<path d="M853.40,598.85L853.40,577.55M844.18,593.53L862.62,582.88M844.18,582.88L862.62,593.53" stroke="#000" stroke-width="4.6" fill="none"/>
<text transform="translate(380.21,592.48) scale(0.9690,1)" font-size="31.96" font-weight="normal" fill="#000">ns</text>
<text transform="translate(169.00,1161.60) scale(0.8733,1)" font-size="22.26" font-weight="bold" fill="#000" stroke="#000" stroke-width="0.55" stroke-linejoin="round">CTRL</text>
<text transform="translate(247.82,1161.60) scale(0.9665,1)" font-size="22.26" font-weight="bold" fill="#000" stroke="#000" stroke-width="0.55" stroke-linejoin="round">DKO</text>
<text transform="translate(321.20,1161.60) scale(0.8733,1)" font-size="22.26" font-weight="bold" fill="#000" stroke="#000" stroke-width="0.55" stroke-linejoin="round">CTRL</text>
<text transform="translate(400.12,1161.60) scale(0.9665,1)" font-size="22.26" font-weight="bold" fill="#000" stroke="#000" stroke-width="0.55" stroke-linejoin="round">DKO</text>
<text transform="translate(473.40,1161.60) scale(0.8733,1)" font-size="22.26" font-weight="bold" fill="#000" stroke="#000" stroke-width="0.55" stroke-linejoin="round">CTRL</text>
<text transform="translate(552.32,1161.60) scale(0.9665,1)" font-size="22.26" font-weight="bold" fill="#000" stroke="#000" stroke-width="0.55" stroke-linejoin="round">DKO</text>
<text transform="translate(625.70,1161.60) scale(0.8733,1)" font-size="22.26" font-weight="bold" fill="#000" stroke="#000" stroke-width="0.55" stroke-linejoin="round">CTRL</text>
<text transform="translate(704.32,1161.60) scale(0.9665,1)" font-size="22.26" font-weight="bold" fill="#000" stroke="#000" stroke-width="0.55" stroke-linejoin="round">DKO</text>
<text transform="translate(777.70,1161.60) scale(0.8733,1)" font-size="22.26" font-weight="bold" fill="#000" stroke="#000" stroke-width="0.55" stroke-linejoin="round">CTRL</text>
<text transform="translate(856.42,1161.60) scale(0.9665,1)" font-size="22.26" font-weight="bold" fill="#000" stroke="#000" stroke-width="0.55" stroke-linejoin="round">DKO</text>
<line x1="167.00" y1="1171.30" x2="294.40" y2="1171.30" stroke="#000" stroke-width="4.8" stroke-linecap="butt"/>
<line x1="319.20" y1="1171.30" x2="447.30" y2="1171.30" stroke="#000" stroke-width="4.8" stroke-linecap="butt"/>
<line x1="472.50" y1="1171.30" x2="599.90" y2="1171.30" stroke="#000" stroke-width="4.8" stroke-linecap="butt"/>
<line x1="625.10" y1="1171.30" x2="752.50" y2="1171.30" stroke="#000" stroke-width="4.8" stroke-linecap="butt"/>
<line x1="777.40" y1="1171.30" x2="904.70" y2="1171.30" stroke="#000" stroke-width="4.8" stroke-linecap="butt"/>
<text transform="translate(194.53,1197.41) scale(1.0530,1)" font-size="21.97" font-weight="bold" fill="#000" stroke="#000" stroke-width="0.55" stroke-linejoin="round">10 min</text>
<text transform="translate(345.17,1200.40) scale(1.0395,1)" font-size="22.24" font-weight="bold" fill="#000" stroke="#000" stroke-width="0.55" stroke-linejoin="round">20 min</text>
<text transform="translate(500.06,1200.35) scale(1.0301,1)" font-size="22.17" font-weight="bold" fill="#000" stroke="#000" stroke-width="0.55" stroke-linejoin="round">30 min</text>
<text transform="translate(653.03,1200.40) scale(1.0343,1)" font-size="22.24" font-weight="bold" fill="#000" stroke="#000" stroke-width="0.55" stroke-linejoin="round">40 min</text>
<text transform="translate(805.41,1200.40) scale(1.0419,1)" font-size="22.24" font-weight="bold" fill="#000" stroke="#000" stroke-width="0.55" stroke-linejoin="round">60 min</text>
<text transform="translate(1.61,1261.17) scale(0.9274,1)" font-size="42.97" font-weight="bold" fill="#000" stroke="#000" stroke-width="0.80" stroke-linejoin="round">C</text>
<line x1="154.40" y1="1314.20" x2="154.40" y2="1808.20" stroke="#000" stroke-width="5.0" stroke-linecap="butt"/>
<line x1="135.50" y1="1316.60" x2="154.40" y2="1316.60" stroke="#000" stroke-width="5.1" stroke-linecap="butt"/>
<text transform="translate(93.52,1325.93) scale(0.9903,1)" font-size="27.14" font-weight="bold" fill="#000" stroke="#000" stroke-width="0.80" stroke-linejoin="round">1.0</text>
<line x1="135.50" y1="1414.36" x2="154.40" y2="1414.36" stroke="#000" stroke-width="5.1" stroke-linecap="butt"/>
<text transform="translate(94.15,1423.69) scale(0.9659,1)" font-size="27.14" font-weight="bold" fill="#000" stroke="#000" stroke-width="0.80" stroke-linejoin="round">0.8</text>
<line x1="135.50" y1="1512.12" x2="154.40" y2="1512.12" stroke="#000" stroke-width="5.1" stroke-linecap="butt"/>
<text transform="translate(94.15,1521.45) scale(0.9696,1)" font-size="27.14" font-weight="bold" fill="#000" stroke="#000" stroke-width="0.80" stroke-linejoin="round">0.6</text>
<line x1="135.50" y1="1609.88" x2="154.40" y2="1609.88" stroke="#000" stroke-width="5.1" stroke-linecap="butt"/>
<text transform="translate(94.17,1619.21) scale(0.9479,1)" font-size="27.14" font-weight="bold" fill="#000" stroke="#000" stroke-width="0.80" stroke-linejoin="round">0.4</text>
<line x1="135.50" y1="1707.64" x2="154.40" y2="1707.64" stroke="#000" stroke-width="5.1" stroke-linecap="butt"/>
<text transform="translate(94.15,1716.97) scale(0.9714,1)" font-size="27.14" font-weight="bold" fill="#000" stroke="#000" stroke-width="0.80" stroke-linejoin="round">0.2</text>
<line x1="135.50" y1="1805.40" x2="154.40" y2="1805.40" stroke="#000" stroke-width="5.1" stroke-linecap="butt"/>
<text transform="translate(94.14,1814.73) scale(0.9733,1)" font-size="27.14" font-weight="bold" fill="#000" stroke="#000" stroke-width="0.80" stroke-linejoin="round">0.0</text>
<text transform="translate(74.73,1631.74) rotate(-90) scale(1.0078,1)" font-size="28.31" font-weight="bold" stroke="#000" stroke-width="0.80" stroke-linejoin="round">Circularity</text>
<line x1="152.00" y1="1805.40" x2="934.90" y2="1805.40" stroke="#000" stroke-width="5.2" stroke-linecap="butt"/>
<line x1="204.50" y1="1805.40" x2="204.50" y2="1823.00" stroke="#000" stroke-width="4.8" stroke-linecap="butt"/>
<line x1="279.70" y1="1805.40" x2="279.70" y2="1823.00" stroke="#000" stroke-width="4.8" stroke-linecap="butt"/>
<line x1="355.20" y1="1805.40" x2="355.20" y2="1823.00" stroke="#000" stroke-width="4.8" stroke-linecap="butt"/>
<line x1="430.50" y1="1805.40" x2="430.50" y2="1823.00" stroke="#000" stroke-width="4.8" stroke-linecap="butt"/>
<line x1="506.00" y1="1805.40" x2="506.00" y2="1823.00" stroke="#000" stroke-width="4.8" stroke-linecap="butt"/>
<line x1="581.30" y1="1805.40" x2="581.30" y2="1823.00" stroke="#000" stroke-width="4.8" stroke-linecap="butt"/>
<line x1="656.90" y1="1805.40" x2="656.90" y2="1823.00" stroke="#000" stroke-width="4.8" stroke-linecap="butt"/>
<line x1="732.10" y1="1805.40" x2="732.10" y2="1823.00" stroke="#000" stroke-width="4.8" stroke-linecap="butt"/>
<line x1="807.40" y1="1805.40" x2="807.40" y2="1823.00" stroke="#000" stroke-width="4.8" stroke-linecap="butt"/>
<line x1="883.20" y1="1805.40" x2="883.20" y2="1823.00" stroke="#000" stroke-width="4.8" stroke-linecap="butt"/>
<path d="M182.10,1805.40V1447.60H226.90V1805.40" stroke="#000" stroke-width="4.8" fill="none" stroke-linejoin="miter"/>
<path d="M257.30,1805.40V1440.80H302.10V1805.40" stroke="#000" stroke-width="4.8" fill="none" stroke-linejoin="miter"/>
<path d="M332.80,1805.40V1481.40H377.60V1805.40" stroke="#000" stroke-width="4.8" fill="none" stroke-linejoin="miter"/>
<path d="M408.10,1805.40V1405.70H452.90V1805.40" stroke="#000" stroke-width="4.8" fill="none" stroke-linejoin="miter"/>
<path d="M483.60,1805.40V1468.80H528.40V1805.40" stroke="#000" stroke-width="4.8" fill="none" stroke-linejoin="miter"/>
<path d="M558.90,1805.40V1436.60H603.70V1805.40" stroke="#000" stroke-width="4.8" fill="none" stroke-linejoin="miter"/>
<path d="M634.50,1805.40V1535.20H679.30V1805.40" stroke="#000" stroke-width="4.8" fill="none" stroke-linejoin="miter"/>
<path d="M709.70,1805.40V1505.90H754.50V1805.40" stroke="#000" stroke-width="4.8" fill="none" stroke-linejoin="miter"/>
<path d="M785.00,1805.40V1495.00H829.80V1805.40" stroke="#000" stroke-width="4.8" fill="none" stroke-linejoin="miter"/>
<path d="M860.80,1805.40V1486.40H905.60V1805.40" stroke="#000" stroke-width="4.8" fill="none" stroke-linejoin="miter"/>
<path d="M204.50,1447.60V1433.50M192.00,1433.50H217.00" stroke="#000" stroke-width="4.6" fill="none" stroke-linecap="round"/>
<path d="M279.70,1440.80V1422.40M267.20,1422.40H292.20" stroke="#000" stroke-width="4.6" fill="none" stroke-linecap="round"/>
<path d="M355.20,1481.40V1459.00M342.70,1459.00H367.70" stroke="#000" stroke-width="4.6" fill="none" stroke-linecap="round"/>
<path d="M430.50,1405.70V1396.40M418.00,1396.40H443.00" stroke="#000" stroke-width="4.6" fill="none" stroke-linecap="round"/>
<path d="M506.00,1468.80V1455.60M493.50,1455.60H518.50" stroke="#000" stroke-width="4.6" fill="none" stroke-linecap="round"/>
<path d="M581.30,1436.60V1420.60M568.80,1420.60H593.80" stroke="#000" stroke-width="4.6" fill="none" stroke-linecap="round"/>
<path d="M656.90,1535.20V1521.20M644.40,1521.20H669.40" stroke="#000" stroke-width="4.6" fill="none" stroke-linecap="round"/>
<path d="M732.10,1505.90V1494.00M719.60,1494.00H744.60" stroke="#000" stroke-width="4.6" fill="none" stroke-linecap="round"/>
<path d="M807.40,1495.00V1479.70M794.90,1479.70H819.90" stroke="#000" stroke-width="4.6" fill="none" stroke-linecap="round"/>
<path d="M883.20,1486.40V1466.60M870.70,1466.60H895.70" stroke="#000" stroke-width="4.6" fill="none" stroke-linecap="round"/>
<g fill="#3a55f5" fill-opacity="0.85"><circle cx="182.7" cy="1316.6" r="3.5"/><circle cx="193.5" cy="1320.6" r="3.5"/><circle cx="204.2" cy="1318.7" r="3.5"/><circle cx="215.1" cy="1316.6" r="3.5"/><circle cx="204.2" cy="1337.0" r="3.5"/><circle cx="204.2" cy="1351.4" r="3.5"/><circle cx="215.1" cy="1349.3" r="3.5"/><circle cx="182.7" cy="1357.3" r="3.5"/><circle cx="193.5" cy="1362.2" r="3.5"/><circle cx="204.2" cy="1360.7" r="3.5"/><circle cx="215.1" cy="1361.2" r="3.5"/><circle cx="225.8" cy="1360.7" r="3.5"/><circle cx="193.5" cy="1376.0" r="3.5"/><circle cx="204.2" cy="1374.8" r="3.5"/><circle cx="182.7" cy="1380.5" r="3.5"/><circle cx="193.5" cy="1384.2" r="3.5"/><circle cx="204.2" cy="1383.0" r="3.5"/><circle cx="215.1" cy="1385.7" r="3.5"/><circle cx="225.8" cy="1380.5" r="3.5"/><circle cx="182.7" cy="1394.2" r="3.5"/><circle cx="193.5" cy="1397.9" r="3.5"/><circle cx="204.2" cy="1400.1" r="3.5"/><circle cx="215.1" cy="1393.9" r="3.5"/><circle cx="215.1" cy="1402.8" r="3.5"/><circle cx="198.7" cy="1410.8" r="3.5"/><circle cx="209.6" cy="1410.5" r="3.5"/><circle cx="182.7" cy="1419.7" r="3.5"/><circle cx="193.5" cy="1423.1" r="3.5"/><circle cx="182.7" cy="1428.3" r="3.5"/><circle cx="193.5" cy="1430.6" r="3.5"/><circle cx="204.2" cy="1428.0" r="3.5"/><circle cx="215.1" cy="1429.5" r="3.5"/><circle cx="182.7" cy="1435.8" r="3.5"/><circle cx="225.8" cy="1435.8" r="3.5"/><circle cx="193.5" cy="1441.7" r="3.5"/><circle cx="204.2" cy="1439.5" r="3.5"/><circle cx="215.1" cy="1438.7" r="3.5"/><circle cx="225.8" cy="1444.0" r="3.5"/><circle cx="204.2" cy="1447.4" r="3.5"/><circle cx="193.5" cy="1453.4" r="3.5"/><circle cx="215.1" cy="1451.6" r="3.5"/><circle cx="204.2" cy="1457.8" r="3.5"/><circle cx="215.1" cy="1458.6" r="3.5"/><circle cx="193.5" cy="1464.1" r="3.5"/><circle cx="215.1" cy="1467.2" r="3.5"/><circle cx="204.2" cy="1483.8" r="3.5"/><circle cx="193.5" cy="1496.2" r="3.5"/><circle cx="204.2" cy="1500.2" r="3.5"/><circle cx="215.1" cy="1497.7" r="3.5"/><circle cx="225.8" cy="1495.3" r="3.5"/><circle cx="198.7" cy="1516.1" r="3.5"/><circle cx="209.6" cy="1512.4" r="3.5"/><circle cx="193.5" cy="1535.1" r="3.5"/><circle cx="204.2" cy="1540.3" r="3.5"/><circle cx="215.1" cy="1536.3" r="3.5"/><circle cx="204.2" cy="1548.2" r="3.5"/><circle cx="204.2" cy="1572.3" r="3.5"/><circle cx="215.1" cy="1574.2" r="3.5"/><circle cx="204.2" cy="1579.7" r="3.5"/><circle cx="204.2" cy="1625.5" r="3.5"/><circle cx="204.2" cy="1640.8" r="3.5"/><circle cx="204.2" cy="1660.9" r="3.5"/><circle cx="204.2" cy="1689.1" r="3.5"/></g>
<g fill="#d8422f" fill-opacity="0.85"><circle cx="261.9" cy="1319.6" r="3.5"/><circle cx="270.4" cy="1316.6" r="3.5"/><circle cx="279.3" cy="1316.6" r="3.5"/><circle cx="288.2" cy="1316.6" r="3.5"/><circle cx="296.8" cy="1318.1" r="3.5"/><circle cx="279.3" cy="1332.9" r="3.5"/><circle cx="275.3" cy="1342.2" r="3.5"/><circle cx="283.8" cy="1347.8" r="3.5"/><circle cx="275.3" cy="1352.6" r="3.5"/><circle cx="275.3" cy="1365.2" r="3.5"/><circle cx="283.8" cy="1371.1" r="3.5"/><circle cx="275.3" cy="1377.5" r="3.5"/><circle cx="257.9" cy="1403.8" r="3.5"/><circle cx="266.4" cy="1404.9" r="3.5"/><circle cx="275.3" cy="1404.3" r="3.5"/><circle cx="283.8" cy="1403.4" r="3.5"/><circle cx="292.7" cy="1400.1" r="3.5"/><circle cx="301.3" cy="1401.9" r="3.5"/><circle cx="266.4" cy="1412.7" r="3.5"/><circle cx="275.3" cy="1412.0" r="3.5"/><circle cx="283.8" cy="1415.0" r="3.5"/><circle cx="292.7" cy="1412.7" r="3.5"/><circle cx="275.3" cy="1427.6" r="3.5"/><circle cx="283.8" cy="1425.1" r="3.5"/><circle cx="279.3" cy="1435.8" r="3.5"/><circle cx="279.3" cy="1444.0" r="3.5"/><circle cx="266.4" cy="1461.1" r="3.5"/><circle cx="283.8" cy="1463.0" r="3.5"/><circle cx="275.3" cy="1469.4" r="3.5"/><circle cx="292.7" cy="1469.4" r="3.5"/><circle cx="266.4" cy="1472.4" r="3.5"/><circle cx="283.8" cy="1473.9" r="3.5"/><circle cx="292.7" cy="1478.9" r="3.5"/><circle cx="283.8" cy="1485.3" r="3.5"/><circle cx="275.3" cy="1537.8" r="3.5"/><circle cx="283.8" cy="1542.2" r="3.5"/><circle cx="279.3" cy="1561.9" r="3.5"/><circle cx="279.3" cy="1593.1" r="3.5"/><circle cx="279.3" cy="1610.7" r="3.5"/><circle cx="279.3" cy="1661.5" r="3.5"/><circle cx="279.3" cy="1800.8" r="3.5"/></g>
<g fill="#3a55f5" fill-opacity="0.85"><circle cx="333.6" cy="1319.9" r="3.5"/><circle cx="339.5" cy="1316.1" r="3.5"/><circle cx="345.5" cy="1318.7" r="3.5"/><circle cx="351.7" cy="1319.9" r="3.5"/><circle cx="358.0" cy="1323.1" r="3.5"/><circle cx="363.9" cy="1316.9" r="3.5"/><circle cx="370.3" cy="1316.1" r="3.5"/><circle cx="376.7" cy="1319.6" r="3.5"/><circle cx="351.7" cy="1328.5" r="3.5"/><circle cx="355.0" cy="1342.2" r="3.5"/><circle cx="351.7" cy="1351.4" r="3.5"/><circle cx="358.0" cy="1354.8" r="3.5"/><circle cx="355.0" cy="1370.7" r="3.5"/><circle cx="355.0" cy="1384.5" r="3.5"/><circle cx="355.0" cy="1402.3" r="3.5"/><circle cx="355.0" cy="1426.6" r="3.5"/><circle cx="355.0" cy="1441.0" r="3.5"/><circle cx="355.0" cy="1458.6" r="3.5"/><circle cx="355.0" cy="1484.6" r="3.5"/><circle cx="351.7" cy="1496.9" r="3.5"/><circle cx="358.0" cy="1501.2" r="3.5"/><circle cx="345.8" cy="1521.4" r="3.5"/><circle cx="358.0" cy="1517.3" r="3.5"/><circle cx="363.9" cy="1520.0" r="3.5"/><circle cx="358.0" cy="1526.6" r="3.5"/><circle cx="351.7" cy="1532.9" r="3.5"/><circle cx="351.7" cy="1542.5" r="3.5"/><circle cx="358.0" cy="1541.4" r="3.5"/><circle cx="351.7" cy="1557.1" r="3.5"/><circle cx="345.8" cy="1561.6" r="3.5"/><circle cx="351.7" cy="1568.5" r="3.5"/><circle cx="358.0" cy="1565.6" r="3.5"/><circle cx="351.7" cy="1579.7" r="3.5"/><circle cx="358.0" cy="1586.1" r="3.5"/><circle cx="351.7" cy="1590.2" r="3.5"/><circle cx="351.7" cy="1622.9" r="3.5"/><circle cx="363.9" cy="1622.9" r="3.5"/><circle cx="358.0" cy="1629.7" r="3.5"/><circle cx="355.0" cy="1685.0" r="3.5"/><circle cx="355.0" cy="1699.1" r="3.5"/><circle cx="355.0" cy="1737.9" r="3.5"/></g>
<g fill="#d8422f" fill-opacity="0.85"><circle cx="408.9" cy="1350.8" r="3.5"/><circle cx="412.9" cy="1347.4" r="3.5"/><circle cx="421.9" cy="1347.4" r="3.5"/><circle cx="430.5" cy="1350.3" r="3.5"/><circle cx="435.0" cy="1351.8" r="3.5"/><circle cx="443.1" cy="1349.9" r="3.5"/><circle cx="452.0" cy="1355.8" r="3.5"/><circle cx="412.9" cy="1357.0" r="3.5"/><circle cx="417.1" cy="1353.3" r="3.5"/><circle cx="421.6" cy="1355.5" r="3.5"/><circle cx="426.0" cy="1356.3" r="3.5"/><circle cx="439.4" cy="1355.5" r="3.5"/><circle cx="443.6" cy="1357.8" r="3.5"/><circle cx="412.9" cy="1365.6" r="3.5"/><circle cx="417.1" cy="1365.2" r="3.5"/><circle cx="426.0" cy="1368.2" r="3.5"/><circle cx="430.5" cy="1366.2" r="3.5"/><circle cx="438.7" cy="1363.0" r="3.5"/><circle cx="443.1" cy="1368.2" r="3.5"/><circle cx="447.6" cy="1365.6" r="3.5"/><circle cx="412.9" cy="1374.8" r="3.5"/><circle cx="417.1" cy="1372.6" r="3.5"/><circle cx="421.6" cy="1371.9" r="3.5"/><circle cx="430.5" cy="1373.7" r="3.5"/><circle cx="435.0" cy="1376.3" r="3.5"/><circle cx="439.4" cy="1377.8" r="3.5"/><circle cx="447.6" cy="1373.7" r="3.5"/><circle cx="426.0" cy="1378.6" r="3.5"/><circle cx="412.9" cy="1382.6" r="3.5"/><circle cx="417.1" cy="1387.5" r="3.5"/><circle cx="421.6" cy="1382.3" r="3.5"/><circle cx="426.0" cy="1386.0" r="3.5"/><circle cx="430.5" cy="1382.3" r="3.5"/><circle cx="435.0" cy="1386.7" r="3.5"/><circle cx="439.4" cy="1386.0" r="3.5"/><circle cx="443.1" cy="1382.3" r="3.5"/><circle cx="447.6" cy="1382.6" r="3.5"/><circle cx="430.5" cy="1393.4" r="3.5"/><circle cx="426.0" cy="1396.0" r="3.5"/><circle cx="439.4" cy="1395.7" r="3.5"/><circle cx="417.1" cy="1400.1" r="3.5"/><circle cx="435.0" cy="1400.9" r="3.5"/><circle cx="438.7" cy="1405.8" r="3.5"/><circle cx="417.1" cy="1410.5" r="3.5"/><circle cx="426.0" cy="1410.5" r="3.5"/><circle cx="430.5" cy="1410.8" r="3.5"/><circle cx="435.0" cy="1410.8" r="3.5"/><circle cx="439.4" cy="1414.2" r="3.5"/><circle cx="443.6" cy="1414.2" r="3.5"/><circle cx="427.8" cy="1422.7" r="3.5"/><circle cx="432.7" cy="1422.7" r="3.5"/><circle cx="435.0" cy="1431.0" r="3.5"/><circle cx="443.6" cy="1430.6" r="3.5"/><circle cx="421.9" cy="1437.0" r="3.5"/><circle cx="426.0" cy="1436.5" r="3.5"/><circle cx="430.5" cy="1435.8" r="3.5"/><circle cx="438.7" cy="1437.3" r="3.5"/><circle cx="435.0" cy="1443.2" r="3.5"/><circle cx="430.5" cy="1449.2" r="3.5"/><circle cx="435.0" cy="1452.2" r="3.5"/><circle cx="426.0" cy="1456.6" r="3.5"/><circle cx="430.5" cy="1458.6" r="3.5"/><circle cx="430.5" cy="1492.3" r="3.5"/><circle cx="430.5" cy="1510.6" r="3.5"/><circle cx="430.5" cy="1521.0" r="3.5"/><circle cx="430.5" cy="1528.4" r="3.5"/><circle cx="430.5" cy="1547.0" r="3.5"/><circle cx="430.5" cy="1608.0" r="3.5"/></g>
<g fill="#3a55f5" fill-opacity="0.85"><circle cx="506.0" cy="1345.1" r="3.5"/><circle cx="506.0" cy="1359.7" r="3.5"/><circle cx="499.0" cy="1370.4" r="3.5"/><circle cx="491.6" cy="1377.1" r="3.5"/><circle cx="499.0" cy="1379.0" r="3.5"/><circle cx="506.0" cy="1379.0" r="3.5"/><circle cx="513.1" cy="1374.5" r="3.5"/><circle cx="520.3" cy="1379.0" r="3.5"/><circle cx="513.1" cy="1382.6" r="3.5"/><circle cx="506.0" cy="1387.9" r="3.5"/><circle cx="484.1" cy="1394.2" r="3.5"/><circle cx="491.6" cy="1394.9" r="3.5"/><circle cx="499.0" cy="1393.9" r="3.5"/><circle cx="506.0" cy="1396.0" r="3.5"/><circle cx="513.1" cy="1391.9" r="3.5"/><circle cx="520.3" cy="1396.0" r="3.5"/><circle cx="527.2" cy="1394.2" r="3.5"/><circle cx="513.1" cy="1400.4" r="3.5"/><circle cx="506.0" cy="1407.8" r="3.5"/><circle cx="499.0" cy="1422.4" r="3.5"/><circle cx="499.0" cy="1429.5" r="3.5"/><circle cx="506.0" cy="1427.6" r="3.5"/><circle cx="513.1" cy="1427.6" r="3.5"/><circle cx="520.3" cy="1428.0" r="3.5"/><circle cx="506.0" cy="1444.7" r="3.5"/><circle cx="491.6" cy="1456.0" r="3.5"/><circle cx="491.6" cy="1464.1" r="3.5"/><circle cx="506.0" cy="1460.8" r="3.5"/><circle cx="513.1" cy="1463.5" r="3.5"/><circle cx="520.3" cy="1464.1" r="3.5"/><circle cx="506.0" cy="1470.9" r="3.5"/><circle cx="499.0" cy="1476.4" r="3.5"/><circle cx="513.1" cy="1476.0" r="3.5"/><circle cx="491.6" cy="1479.8" r="3.5"/><circle cx="520.3" cy="1479.8" r="3.5"/><circle cx="506.0" cy="1487.6" r="3.5"/><circle cx="499.0" cy="1493.8" r="3.5"/><circle cx="513.1" cy="1492.3" r="3.5"/><circle cx="499.0" cy="1502.7" r="3.5"/><circle cx="491.6" cy="1507.6" r="3.5"/><circle cx="506.0" cy="1507.6" r="3.5"/><circle cx="520.3" cy="1507.6" r="3.5"/><circle cx="499.0" cy="1514.0" r="3.5"/><circle cx="513.1" cy="1514.3" r="3.5"/><circle cx="506.0" cy="1530.7" r="3.5"/><circle cx="499.0" cy="1538.1" r="3.5"/><circle cx="513.1" cy="1540.3" r="3.5"/><circle cx="506.0" cy="1544.3" r="3.5"/><circle cx="499.0" cy="1558.9" r="3.5"/><circle cx="513.1" cy="1560.4" r="3.5"/><circle cx="506.0" cy="1567.1" r="3.5"/><circle cx="513.1" cy="1574.5" r="3.5"/><circle cx="506.0" cy="1579.7" r="3.5"/><circle cx="506.0" cy="1590.2" r="3.5"/><circle cx="506.0" cy="1603.2" r="3.5"/><circle cx="506.0" cy="1618.1" r="3.5"/><circle cx="506.0" cy="1630.7" r="3.5"/></g>
<g fill="#d8422f" fill-opacity="0.85"><circle cx="574.0" cy="1316.6" r="3.5"/><circle cx="588.6" cy="1320.2" r="3.5"/><circle cx="574.0" cy="1324.0" r="3.5"/><circle cx="581.2" cy="1343.6" r="3.5"/><circle cx="581.2" cy="1352.3" r="3.5"/><circle cx="588.6" cy="1357.3" r="3.5"/><circle cx="581.2" cy="1360.0" r="3.5"/><circle cx="559.5" cy="1372.6" r="3.5"/><circle cx="566.6" cy="1373.4" r="3.5"/><circle cx="574.0" cy="1377.1" r="3.5"/><circle cx="581.2" cy="1371.9" r="3.5"/><circle cx="588.6" cy="1370.7" r="3.5"/><circle cx="595.6" cy="1376.0" r="3.5"/><circle cx="603.0" cy="1372.2" r="3.5"/><circle cx="588.6" cy="1379.0" r="3.5"/><circle cx="581.2" cy="1382.6" r="3.5"/><circle cx="574.0" cy="1385.5" r="3.5"/><circle cx="588.6" cy="1389.7" r="3.5"/><circle cx="581.2" cy="1394.9" r="3.5"/><circle cx="588.6" cy="1402.8" r="3.5"/><circle cx="574.0" cy="1407.8" r="3.5"/><circle cx="566.6" cy="1417.9" r="3.5"/><circle cx="595.6" cy="1415.0" r="3.5"/><circle cx="574.0" cy="1422.1" r="3.5"/><circle cx="581.2" cy="1421.7" r="3.5"/><circle cx="588.6" cy="1421.7" r="3.5"/><circle cx="577.8" cy="1434.0" r="3.5"/><circle cx="584.8" cy="1435.5" r="3.5"/><circle cx="588.6" cy="1443.9" r="3.5"/><circle cx="581.2" cy="1448.6" r="3.5"/><circle cx="574.0" cy="1452.2" r="3.5"/><circle cx="581.2" cy="1463.0" r="3.5"/><circle cx="581.2" cy="1483.1" r="3.5"/><circle cx="588.6" cy="1483.1" r="3.5"/><circle cx="574.0" cy="1488.3" r="3.5"/><circle cx="581.2" cy="1491.3" r="3.5"/><circle cx="574.0" cy="1507.6" r="3.5"/><circle cx="588.6" cy="1514.3" r="3.5"/><circle cx="581.2" cy="1517.6" r="3.5"/><circle cx="581.2" cy="1563.0" r="3.5"/><circle cx="577.8" cy="1587.2" r="3.5"/><circle cx="584.8" cy="1583.6" r="3.5"/><circle cx="581.2" cy="1666.0" r="3.5"/><circle cx="581.2" cy="1676.1" r="3.5"/></g>
<g fill="#3a55f5" fill-opacity="0.85"><circle cx="667.4" cy="1346.0" r="3.5"/><circle cx="656.7" cy="1352.3" r="3.5"/><circle cx="646.0" cy="1370.4" r="3.5"/><circle cx="667.4" cy="1377.6" r="3.5"/><circle cx="656.7" cy="1381.7" r="3.5"/><circle cx="646.0" cy="1385.7" r="3.5"/><circle cx="667.4" cy="1389.7" r="3.5"/><circle cx="656.7" cy="1395.4" r="3.5"/><circle cx="667.4" cy="1401.3" r="3.5"/><circle cx="656.7" cy="1407.6" r="3.5"/><circle cx="651.0" cy="1427.8" r="3.5"/><circle cx="661.9" cy="1427.8" r="3.5"/><circle cx="651.0" cy="1435.5" r="3.5"/><circle cx="661.9" cy="1440.0" r="3.5"/><circle cx="646.0" cy="1452.2" r="3.5"/><circle cx="656.7" cy="1453.0" r="3.5"/><circle cx="667.4" cy="1456.0" r="3.5"/><circle cx="646.0" cy="1461.5" r="3.5"/><circle cx="656.7" cy="1463.0" r="3.5"/><circle cx="646.0" cy="1470.5" r="3.5"/><circle cx="656.7" cy="1479.6" r="3.5"/><circle cx="667.4" cy="1477.6" r="3.5"/><circle cx="667.4" cy="1490.6" r="3.5"/><circle cx="646.0" cy="1495.9" r="3.5"/><circle cx="656.7" cy="1493.5" r="3.5"/><circle cx="656.7" cy="1501.0" r="3.5"/><circle cx="646.0" cy="1510.3" r="3.5"/><circle cx="667.4" cy="1510.8" r="3.5"/><circle cx="646.0" cy="1517.8" r="3.5"/><circle cx="656.7" cy="1516.3" r="3.5"/><circle cx="656.7" cy="1525.2" r="3.5"/><circle cx="667.4" cy="1529.2" r="3.5"/><circle cx="656.7" cy="1533.1" r="3.5"/><circle cx="646.0" cy="1536.6" r="3.5"/><circle cx="667.4" cy="1536.6" r="3.5"/><circle cx="656.7" cy="1541.5" r="3.5"/><circle cx="635.1" cy="1550.5" r="3.5"/><circle cx="656.7" cy="1549.7" r="3.5"/><circle cx="667.4" cy="1551.9" r="3.5"/><circle cx="635.1" cy="1560.1" r="3.5"/><circle cx="646.0" cy="1557.9" r="3.5"/><circle cx="656.7" cy="1558.6" r="3.5"/><circle cx="678.2" cy="1559.4" r="3.5"/><circle cx="646.0" cy="1565.8" r="3.5"/><circle cx="656.7" cy="1567.2" r="3.5"/><circle cx="667.4" cy="1563.1" r="3.5"/><circle cx="678.2" cy="1567.8" r="3.5"/><circle cx="656.7" cy="1574.7" r="3.5"/><circle cx="667.4" cy="1572.3" r="3.5"/><circle cx="646.0" cy="1577.2" r="3.5"/><circle cx="656.7" cy="1581.7" r="3.5"/><circle cx="667.4" cy="1583.6" r="3.5"/><circle cx="656.7" cy="1589.5" r="3.5"/><circle cx="667.4" cy="1598.5" r="3.5"/><circle cx="646.0" cy="1604.7" r="3.5"/><circle cx="656.7" cy="1604.0" r="3.5"/><circle cx="667.4" cy="1610.7" r="3.5"/><circle cx="656.7" cy="1614.1" r="3.5"/><circle cx="651.0" cy="1621.5" r="3.5"/><circle cx="640.3" cy="1625.6" r="3.5"/><circle cx="661.9" cy="1627.0" r="3.5"/><circle cx="672.7" cy="1626.7" r="3.5"/><circle cx="651.0" cy="1652.8" r="3.5"/><circle cx="661.9" cy="1652.0" r="3.5"/><circle cx="656.7" cy="1662.1" r="3.5"/><circle cx="646.0" cy="1666.1" r="3.5"/><circle cx="667.4" cy="1668.7" r="3.5"/><circle cx="656.7" cy="1675.8" r="3.5"/><circle cx="667.4" cy="1701.8" r="3.5"/><circle cx="656.7" cy="1706.7" r="3.5"/><circle cx="656.7" cy="1720.1" r="3.5"/></g>
<g fill="#d8422f" fill-opacity="0.85"><circle cx="736.2" cy="1376.8" r="3.5"/><circle cx="727.7" cy="1382.8" r="3.5"/><circle cx="736.2" cy="1385.3" r="3.5"/><circle cx="718.8" cy="1392.1" r="3.5"/><circle cx="736.2" cy="1392.4" r="3.5"/><circle cx="744.7" cy="1393.9" r="3.5"/><circle cx="727.7" cy="1398.7" r="3.5"/><circle cx="718.8" cy="1403.6" r="3.5"/><circle cx="736.2" cy="1402.8" r="3.5"/><circle cx="744.7" cy="1403.6" r="3.5"/><circle cx="727.7" cy="1407.6" r="3.5"/><circle cx="718.8" cy="1413.5" r="3.5"/><circle cx="727.7" cy="1415.5" r="3.5"/><circle cx="736.2" cy="1416.9" r="3.5"/><circle cx="744.7" cy="1416.9" r="3.5"/><circle cx="718.8" cy="1421.4" r="3.5"/><circle cx="727.7" cy="1430.8" r="3.5"/><circle cx="736.2" cy="1431.1" r="3.5"/><circle cx="736.2" cy="1438.8" r="3.5"/><circle cx="727.7" cy="1441.2" r="3.5"/><circle cx="710.2" cy="1448.1" r="3.5"/><circle cx="718.8" cy="1452.6" r="3.5"/><circle cx="727.7" cy="1451.1" r="3.5"/><circle cx="736.2" cy="1454.8" r="3.5"/><circle cx="744.7" cy="1453.6" r="3.5"/><circle cx="718.8" cy="1460.5" r="3.5"/><circle cx="744.7" cy="1461.5" r="3.5"/><circle cx="727.7" cy="1465.5" r="3.5"/><circle cx="718.8" cy="1486.1" r="3.5"/><circle cx="727.7" cy="1484.6" r="3.5"/><circle cx="736.2" cy="1482.5" r="3.5"/><circle cx="744.7" cy="1485.5" r="3.5"/><circle cx="753.6" cy="1495.5" r="3.5"/><circle cx="718.8" cy="1498.4" r="3.5"/><circle cx="736.2" cy="1499.5" r="3.5"/><circle cx="744.7" cy="1499.5" r="3.5"/><circle cx="736.2" cy="1492.0" r="3.5"/><circle cx="710.2" cy="1505.4" r="3.5"/><circle cx="718.8" cy="1505.9" r="3.5"/><circle cx="736.2" cy="1508.4" r="3.5"/><circle cx="753.6" cy="1506.3" r="3.5"/><circle cx="727.7" cy="1510.8" r="3.5"/><circle cx="744.7" cy="1510.8" r="3.5"/><circle cx="732.2" cy="1519.7" r="3.5"/><circle cx="718.8" cy="1532.2" r="3.5"/><circle cx="727.7" cy="1530.7" r="3.5"/><circle cx="736.2" cy="1528.9" r="3.5"/><circle cx="744.7" cy="1529.6" r="3.5"/><circle cx="710.2" cy="1537.8" r="3.5"/><circle cx="744.7" cy="1537.5" r="3.5"/><circle cx="753.6" cy="1542.0" r="3.5"/><circle cx="718.8" cy="1547.9" r="3.5"/><circle cx="727.7" cy="1546.7" r="3.5"/><circle cx="736.2" cy="1544.5" r="3.5"/><circle cx="744.7" cy="1548.5" r="3.5"/><circle cx="727.7" cy="1562.8" r="3.5"/><circle cx="736.2" cy="1561.6" r="3.5"/><circle cx="727.7" cy="1573.2" r="3.5"/><circle cx="736.2" cy="1575.0" r="3.5"/><circle cx="718.8" cy="1578.7" r="3.5"/><circle cx="744.7" cy="1578.7" r="3.5"/><circle cx="727.7" cy="1582.1" r="3.5"/><circle cx="736.2" cy="1584.6" r="3.5"/><circle cx="727.7" cy="1590.6" r="3.5"/><circle cx="732.2" cy="1598.7" r="3.5"/><circle cx="727.7" cy="1604.7" r="3.5"/><circle cx="736.2" cy="1604.7" r="3.5"/><circle cx="718.8" cy="1621.5" r="3.5"/><circle cx="727.7" cy="1627.0" r="3.5"/><circle cx="736.2" cy="1625.6" r="3.5"/><circle cx="731.7" cy="1643.1" r="3.5"/><circle cx="731.7" cy="1651.3" r="3.5"/><circle cx="731.7" cy="1664.6" r="3.5"/><circle cx="731.7" cy="1672.8" r="3.5"/></g>
<g fill="#3a55f5" fill-opacity="0.85"><circle cx="807.2" cy="1335.4" r="3.5"/><circle cx="807.2" cy="1347.4" r="3.5"/><circle cx="794.1" cy="1357.4" r="3.5"/><circle cx="803.0" cy="1359.9" r="3.5"/><circle cx="811.7" cy="1361.4" r="3.5"/><circle cx="820.3" cy="1367.3" r="3.5"/><circle cx="794.1" cy="1369.7" r="3.5"/><circle cx="811.7" cy="1370.7" r="3.5"/><circle cx="803.0" cy="1374.4" r="3.5"/><circle cx="811.7" cy="1377.7" r="3.5"/><circle cx="785.7" cy="1385.6" r="3.5"/><circle cx="794.1" cy="1387.5" r="3.5"/><circle cx="803.0" cy="1386.6" r="3.5"/><circle cx="811.7" cy="1386.6" r="3.5"/><circle cx="820.3" cy="1391.5" r="3.5"/><circle cx="829.2" cy="1391.5" r="3.5"/><circle cx="803.0" cy="1395.2" r="3.5"/><circle cx="807.2" cy="1404.9" r="3.5"/><circle cx="803.0" cy="1416.8" r="3.5"/><circle cx="811.7" cy="1422.3" r="3.5"/><circle cx="803.0" cy="1429.1" r="3.5"/><circle cx="811.7" cy="1436.1" r="3.5"/><circle cx="794.1" cy="1439.8" r="3.5"/><circle cx="803.0" cy="1444.6" r="3.5"/><circle cx="811.7" cy="1445.0" r="3.5"/><circle cx="820.3" cy="1442.5" r="3.5"/><circle cx="811.7" cy="1454.0" r="3.5"/><circle cx="820.3" cy="1452.5" r="3.5"/><circle cx="803.0" cy="1458.9" r="3.5"/><circle cx="820.3" cy="1463.1" r="3.5"/><circle cx="811.7" cy="1465.2" r="3.5"/><circle cx="798.6" cy="1474.1" r="3.5"/><circle cx="807.2" cy="1473.5" r="3.5"/><circle cx="815.8" cy="1475.3" r="3.5"/><circle cx="803.0" cy="1483.9" r="3.5"/><circle cx="811.7" cy="1486.0" r="3.5"/><circle cx="803.0" cy="1493.1" r="3.5"/><circle cx="811.7" cy="1497.3" r="3.5"/><circle cx="807.2" cy="1509.7" r="3.5"/><circle cx="807.2" cy="1520.6" r="3.5"/><circle cx="803.0" cy="1527.6" r="3.5"/><circle cx="811.7" cy="1530.2" r="3.5"/><circle cx="820.3" cy="1528.0" r="3.5"/><circle cx="794.1" cy="1533.5" r="3.5"/><circle cx="811.7" cy="1540.4" r="3.5"/><circle cx="803.0" cy="1545.9" r="3.5"/><circle cx="811.7" cy="1552.2" r="3.5"/><circle cx="820.3" cy="1553.7" r="3.5"/><circle cx="803.0" cy="1558.2" r="3.5"/><circle cx="803.0" cy="1571.9" r="3.5"/><circle cx="811.7" cy="1570.1" r="3.5"/><circle cx="811.7" cy="1586.0" r="3.5"/><circle cx="803.0" cy="1589.7" r="3.5"/><circle cx="811.7" cy="1601.0" r="3.5"/><circle cx="803.0" cy="1604.6" r="3.5"/><circle cx="803.0" cy="1618.4" r="3.5"/><circle cx="811.7" cy="1621.9" r="3.5"/><circle cx="803.0" cy="1633.7" r="3.5"/><circle cx="811.7" cy="1636.3" r="3.5"/><circle cx="803.0" cy="1643.0" r="3.5"/><circle cx="803.0" cy="1651.6" r="3.5"/><circle cx="820.3" cy="1651.6" r="3.5"/><circle cx="811.7" cy="1658.1" r="3.5"/><circle cx="807.2" cy="1669.7" r="3.5"/><circle cx="803.0" cy="1678.6" r="3.5"/><circle cx="811.7" cy="1678.6" r="3.5"/></g>
<g fill="#d8422f" fill-opacity="0.85"><circle cx="883.0" cy="1322.1" r="3.5"/><circle cx="904.5" cy="1358.4" r="3.5"/><circle cx="861.5" cy="1363.7" r="3.5"/><circle cx="875.6" cy="1363.7" r="3.5"/><circle cx="890.1" cy="1363.7" r="3.5"/><circle cx="904.5" cy="1370.7" r="3.5"/><circle cx="861.5" cy="1377.7" r="3.5"/><circle cx="875.6" cy="1376.7" r="3.5"/><circle cx="890.1" cy="1376.7" r="3.5"/><circle cx="904.5" cy="1379.2" r="3.5"/><circle cx="875.6" cy="1385.1" r="3.5"/><circle cx="875.6" cy="1400.4" r="3.5"/><circle cx="890.1" cy="1401.9" r="3.5"/><circle cx="875.6" cy="1407.4" r="3.5"/><circle cx="890.1" cy="1412.3" r="3.5"/><circle cx="875.6" cy="1429.4" r="3.5"/><circle cx="890.1" cy="1429.4" r="3.5"/><circle cx="875.6" cy="1446.5" r="3.5"/><circle cx="890.1" cy="1449.9" r="3.5"/><circle cx="904.5" cy="1447.6" r="3.5"/><circle cx="875.6" cy="1454.7" r="3.5"/><circle cx="875.6" cy="1467.5" r="3.5"/><circle cx="890.1" cy="1466.0" r="3.5"/><circle cx="890.1" cy="1474.5" r="3.5"/><circle cx="890.1" cy="1483.9" r="3.5"/><circle cx="875.6" cy="1487.9" r="3.5"/><circle cx="882.7" cy="1522.1" r="3.5"/><circle cx="882.7" cy="1534.0" r="3.5"/><circle cx="875.6" cy="1547.3" r="3.5"/><circle cx="890.1" cy="1553.3" r="3.5"/><circle cx="904.5" cy="1559.2" r="3.5"/><circle cx="861.5" cy="1562.9" r="3.5"/><circle cx="875.6" cy="1565.2" r="3.5"/><circle cx="875.6" cy="1587.5" r="3.5"/><circle cx="890.1" cy="1591.0" r="3.5"/><circle cx="861.5" cy="1616.5" r="3.5"/><circle cx="875.6" cy="1622.9" r="3.5"/><circle cx="890.1" cy="1619.5" r="3.5"/><circle cx="882.7" cy="1634.0" r="3.5"/><circle cx="882.7" cy="1644.7" r="3.5"/><circle cx="882.7" cy="1700.2" r="3.5"/><circle cx="882.7" cy="1719.9" r="3.5"/></g>
<path d="M194.70,1299.20V1281.10H280.80V1299.20" stroke="#000" stroke-width="5.2" fill="none" stroke-linecap="round" stroke-linejoin="miter"/>
<path d="M351.10,1298.70V1280.40H436.60V1298.70" stroke="#000" stroke-width="5.2" fill="none" stroke-linecap="round" stroke-linejoin="miter"/>
<path d="M501.50,1299.90V1281.90H585.80V1299.90" stroke="#000" stroke-width="5.2" fill="none" stroke-linecap="round" stroke-linejoin="miter"/>
<path d="M656.20,1302.20V1284.40H735.10V1302.20" stroke="#000" stroke-width="5.2" fill="none" stroke-linecap="round" stroke-linejoin="miter"/>
<path d="M803.00,1302.80V1284.80H884.00V1302.80" stroke="#000" stroke-width="5.2" fill="none" stroke-linecap="round" stroke-linejoin="miter"/>
<path d="M393.70,1265.15L393.70,1244.45M384.74,1259.97L402.66,1249.62M384.74,1249.62L402.66,1259.97" stroke="#000" stroke-width="4.5" fill="none"/>
<path d="M544.30,1266.60L544.30,1245.80M535.29,1261.40L553.31,1251.00M535.29,1251.00L553.31,1261.40" stroke="#000" stroke-width="4.5" fill="none"/>
<path d="M695.60,1269.00L695.60,1248.20M686.59,1263.80L704.61,1253.40M686.59,1253.40L704.61,1263.80" stroke="#000" stroke-width="4.5" fill="none"/>
<text transform="translate(221.03,1262.48) scale(0.9591,1)" font-size="31.96" font-weight="normal" fill="#000">ns</text>
<text transform="translate(827.07,1265.99) scale(0.9670,1)" font-size="31.05" font-weight="normal" fill="#000">ns</text>
<text transform="translate(177.49,1846.61) scale(0.9127,1)" font-size="21.55" font-weight="bold" fill="#000" stroke="#000" stroke-width="0.55" stroke-linejoin="round">CTRL</text>
<text transform="translate(330.30,1846.61) scale(0.9019,1)" font-size="21.55" font-weight="bold" fill="#000" stroke="#000" stroke-width="0.55" stroke-linejoin="round">CTRL</text>
<text transform="translate(482.20,1846.61) scale(0.9019,1)" font-size="21.55" font-weight="bold" fill="#000" stroke="#000" stroke-width="0.55" stroke-linejoin="round">CTRL</text>
<text transform="translate(634.50,1846.61) scale(0.9002,1)" font-size="21.55" font-weight="bold" fill="#000" stroke="#000" stroke-width="0.55" stroke-linejoin="round">CTRL</text>
<text transform="translate(786.41,1846.61) scale(0.8841,1)" font-size="21.55" font-weight="bold" fill="#000" stroke="#000" stroke-width="0.55" stroke-linejoin="round">CTRL</text>
<text transform="translate(257.06,1846.61) scale(0.9740,1)" font-size="21.55" font-weight="bold" fill="#000" stroke="#000" stroke-width="0.55" stroke-linejoin="round">DKO</text>
<text transform="translate(409.27,1846.61) scale(0.9674,1)" font-size="21.55" font-weight="bold" fill="#000" stroke="#000" stroke-width="0.55" stroke-linejoin="round">DKO</text>
<text transform="translate(561.22,1846.61) scale(1.0003,1)" font-size="21.55" font-weight="bold" fill="#000" stroke="#000" stroke-width="0.55" stroke-linejoin="round">DKO</text>
<text transform="translate(713.45,1846.61) scale(0.9806,1)" font-size="21.55" font-weight="bold" fill="#000" stroke="#000" stroke-width="0.55" stroke-linejoin="round">DKO</text>
<text transform="translate(865.34,1846.61) scale(0.9894,1)" font-size="21.55" font-weight="bold" fill="#000" stroke="#000" stroke-width="0.55" stroke-linejoin="round">DKO</text>
<line x1="177.00" y1="1856.40" x2="304.40" y2="1856.40" stroke="#000" stroke-width="4.8" stroke-linecap="butt"/>
<line x1="326.70" y1="1856.40" x2="453.40" y2="1856.40" stroke="#000" stroke-width="4.8" stroke-linecap="butt"/>
<line x1="482.10" y1="1856.40" x2="609.50" y2="1856.40" stroke="#000" stroke-width="4.8" stroke-linecap="butt"/>
<line x1="634.60" y1="1856.40" x2="762.40" y2="1856.40" stroke="#000" stroke-width="4.8" stroke-linecap="butt"/>
<line x1="786.90" y1="1856.40" x2="915.20" y2="1856.40" stroke="#000" stroke-width="4.8" stroke-linecap="butt"/>
<text transform="translate(203.84,1881.91) scale(1.0820,1)" font-size="21.29" font-weight="bold" fill="#000" stroke="#000" stroke-width="0.55" stroke-linejoin="round">10 min</text>
<text transform="translate(354.16,1885.41) scale(1.0807,1)" font-size="21.43" font-weight="bold" fill="#000" stroke="#000" stroke-width="0.55" stroke-linejoin="round">20 min</text>
<text transform="translate(508.65,1885.35) scale(1.0694,1)" font-size="21.63" font-weight="bold" fill="#000" stroke="#000" stroke-width="0.55" stroke-linejoin="round">30 min</text>
<text transform="translate(661.93,1885.41) scale(1.0557,1)" font-size="21.70" font-weight="bold" fill="#000" stroke="#000" stroke-width="0.55" stroke-linejoin="round">40 min</text>
<text transform="translate(814.31,1885.41) scale(1.0680,1)" font-size="21.70" font-weight="bold" fill="#000" stroke="#000" stroke-width="0.55" stroke-linejoin="round">60 min</text></svg>
</body></html>
